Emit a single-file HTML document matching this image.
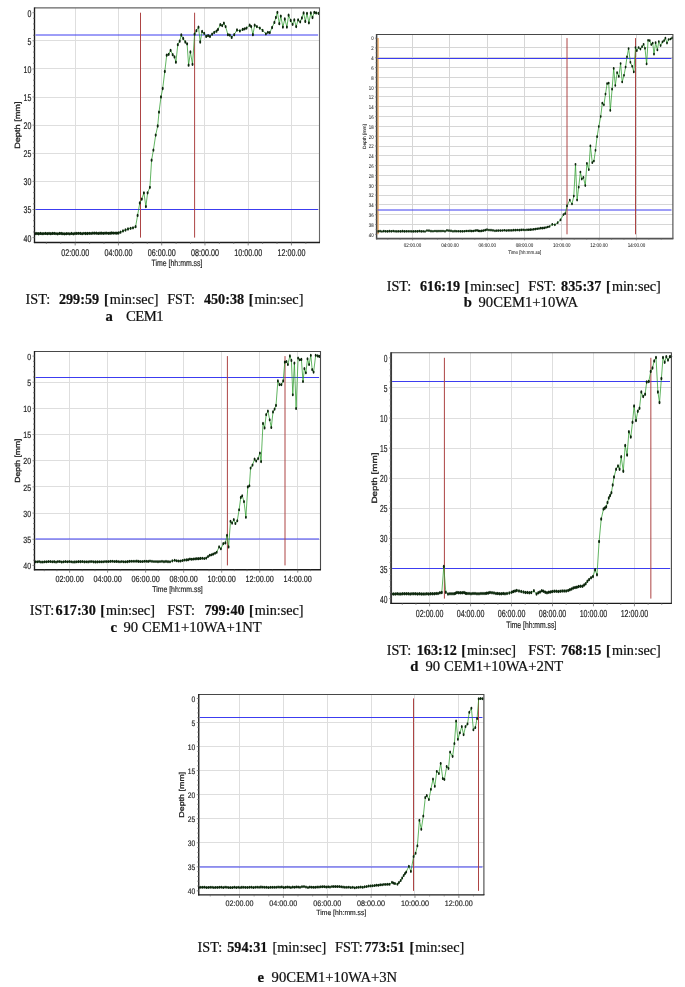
<!DOCTYPE html>
<html lang="en"><head><meta charset="utf-8"><title>Setting time curves</title>
<style>
html,body{margin:0;padding:0;background:#fff;}
body{width:685px;height:987px;overflow:hidden;position:relative;}
svg{position:absolute;left:0;top:0;display:block;}
text{white-space:pre;}
.ax text{text-rendering:geometricPrecision;}
</style></head><body>
<svg width="685" height="987" viewBox="0 0 685 987">
<rect width="685" height="987" fill="#fff"/>
<g id="chart-a" class="ax">
<path d="M75.5 7.9V242.45M118.5 7.9V242.45M161.5 7.9V242.45M204.5 7.9V242.45M248.5 7.9V242.45M291.5 7.9V242.45M34.5 40.5H319.5M34.5 68.5H319.5M34.5 97.5H319.5M34.5 125.5H319.5M34.5 153.5H319.5M34.5 181.5H319.5M34.5 209.5H319.5" stroke="#dedede" stroke-width="1" fill="none"/>
<path d="M35.5 35H318.1" stroke="#3c3cf0" stroke-width="1.0" fill="none"/>
<path d="M35.5 209.5H318.1" stroke="#3c3cf0" stroke-width="1" fill="none"/>
<path d="M140.5 12.7V237.6" stroke="#ad4444" stroke-width="1.0" fill="none"/>
<path d="M194.6 12.7V237.6" stroke="#ad4444" stroke-width="1.0" fill="none"/>
<polyline points="35.2,233.61 36.93,233.52 38.66,233.77 40.39,233.47 42.12,233.7 43.85,233.61 45.58,233.45 47.31,233.67 49.04,233.43 50.77,233.63 52.5,233.44 54.23,233.45 55.97,233.61 57.7,233.81 59.43,233.45 61.16,233.5 62.89,233.69 64.62,233.85 66.35,233.66 68.08,233.57 69.81,233.85 71.54,233.38 73.27,233.78 75,233.49 76.79,233.4 78.57,233.37 80.36,233.44 82.14,233.67 83.93,233.33 85.71,233.51 87.5,233.52 89.29,233.36 91.07,233.43 92.86,233.17 94.64,233.14 96.43,233.2 98.21,233.41 100,233.26 101.68,233.18 103.36,233.29 105.05,233.19 106.73,233.09 108.41,233.31 110.09,233.24 111.77,232.98 113.45,233.12 115.14,233.07 116.82,233.21 118.5,233 120.5,232.2 123,230.9 125.5,230 128,229 130.6,228.3 133,227.8 135.6,226.7 137.6,215.4 139.8,202.9 141.8,199.1 143.9,192.8 145.9,206.6 147.6,192.8 149.9,187.3 151.6,160.2 153.4,150.1 155.7,135.1 157.7,126 159,112.1 161,96.9 162.7,88.5 164.8,71.5 166.7,55.2 168.7,54.3 170.6,50.3 172.7,54.7 174.5,56.9 175.9,62.2 177.8,44.7 179.7,41.2 181.3,35 183.2,38.5 185.3,42 187.1,43.8 188.6,65.2 190.4,52 192.5,64.3 194.6,34.2 196.4,30.7 198.5,27.2 200.2,42 202.1,31.5 204.2,33.3 206.2,36.4 208.1,35.6 210,36.4 212.1,34.2 214.2,32.4 216.5,31.2 218,29.4 220.3,24.7 222.2,25.6 223.9,23.2 225.6,26.6 227.9,34.7 229.8,35.1 231.7,37.4 234.2,34.7 237,30 239.9,30.9 242.7,29.4 244.6,28.8 246.5,28.1 249.7,25.2 251.2,26.6 252.9,34.7 254.7,25.2 256.9,26.6 259.8,28.1 262.6,30.4 265.9,33.8 267.9,32.3 269.8,32.6 272.1,27.5 274.4,22.4 275.9,17.5 277.4,12.3 279.3,23.7 280.8,16.1 282.9,27.1 284.8,19 286.9,27.1 288.6,15.2 290.7,20.5 292.6,24.3 294.3,19.9 296.2,26.6 298.1,19.9 300.2,21.8 301.9,18 303.6,12.9 305.3,21.4 307,13.3 308.9,22.8 310.8,12.9 312.5,17.5 314.3,12.3 316.1,12.9 318.6,13.3" stroke="#2d9c2d" stroke-width="0.75" fill="none" stroke-linejoin="round"/>
<path d="M34.2 233.61a1 1.65 0 1 0 2 0a1 1.65 0 1 0 -2 0M35.93 233.52a1 1.65 0 1 0 2 0a1 1.65 0 1 0 -2 0M37.66 233.77a1 1.65 0 1 0 2 0a1 1.65 0 1 0 -2 0M39.39 233.47a1 1.65 0 1 0 2 0a1 1.65 0 1 0 -2 0M41.12 233.7a1 1.65 0 1 0 2 0a1 1.65 0 1 0 -2 0M42.85 233.61a1 1.65 0 1 0 2 0a1 1.65 0 1 0 -2 0M44.58 233.45a1 1.65 0 1 0 2 0a1 1.65 0 1 0 -2 0M46.31 233.67a1 1.65 0 1 0 2 0a1 1.65 0 1 0 -2 0M48.04 233.43a1 1.65 0 1 0 2 0a1 1.65 0 1 0 -2 0M49.77 233.63a1 1.65 0 1 0 2 0a1 1.65 0 1 0 -2 0M51.5 233.44a1 1.65 0 1 0 2 0a1 1.65 0 1 0 -2 0M53.23 233.45a1 1.65 0 1 0 2 0a1 1.65 0 1 0 -2 0M54.97 233.61a1 1.65 0 1 0 2 0a1 1.65 0 1 0 -2 0M56.7 233.81a1 1.65 0 1 0 2 0a1 1.65 0 1 0 -2 0M58.43 233.45a1 1.65 0 1 0 2 0a1 1.65 0 1 0 -2 0M60.16 233.5a1 1.65 0 1 0 2 0a1 1.65 0 1 0 -2 0M61.89 233.69a1 1.65 0 1 0 2 0a1 1.65 0 1 0 -2 0M63.62 233.85a1 1.65 0 1 0 2 0a1 1.65 0 1 0 -2 0M65.35 233.66a1 1.65 0 1 0 2 0a1 1.65 0 1 0 -2 0M67.08 233.57a1 1.65 0 1 0 2 0a1 1.65 0 1 0 -2 0M68.81 233.85a1 1.65 0 1 0 2 0a1 1.65 0 1 0 -2 0M70.54 233.38a1 1.65 0 1 0 2 0a1 1.65 0 1 0 -2 0M72.27 233.78a1 1.65 0 1 0 2 0a1 1.65 0 1 0 -2 0M74 233.49a1 1.65 0 1 0 2 0a1 1.65 0 1 0 -2 0M75.79 233.4a1 1.65 0 1 0 2 0a1 1.65 0 1 0 -2 0M77.57 233.37a1 1.65 0 1 0 2 0a1 1.65 0 1 0 -2 0M79.36 233.44a1 1.65 0 1 0 2 0a1 1.65 0 1 0 -2 0M81.14 233.67a1 1.65 0 1 0 2 0a1 1.65 0 1 0 -2 0M82.93 233.33a1 1.65 0 1 0 2 0a1 1.65 0 1 0 -2 0M84.71 233.51a1 1.65 0 1 0 2 0a1 1.65 0 1 0 -2 0M86.5 233.52a1 1.65 0 1 0 2 0a1 1.65 0 1 0 -2 0M88.29 233.36a1 1.65 0 1 0 2 0a1 1.65 0 1 0 -2 0M90.07 233.43a1 1.65 0 1 0 2 0a1 1.65 0 1 0 -2 0M91.86 233.17a1 1.65 0 1 0 2 0a1 1.65 0 1 0 -2 0M93.64 233.14a1 1.65 0 1 0 2 0a1 1.65 0 1 0 -2 0M95.43 233.2a1 1.65 0 1 0 2 0a1 1.65 0 1 0 -2 0M97.21 233.41a1 1.65 0 1 0 2 0a1 1.65 0 1 0 -2 0M99 233.26a1 1.65 0 1 0 2 0a1 1.65 0 1 0 -2 0M100.68 233.18a1 1.65 0 1 0 2 0a1 1.65 0 1 0 -2 0M102.36 233.29a1 1.65 0 1 0 2 0a1 1.65 0 1 0 -2 0M104.05 233.19a1 1.65 0 1 0 2 0a1 1.65 0 1 0 -2 0M105.73 233.09a1 1.65 0 1 0 2 0a1 1.65 0 1 0 -2 0M107.41 233.31a1 1.65 0 1 0 2 0a1 1.65 0 1 0 -2 0M109.09 233.24a1 1.65 0 1 0 2 0a1 1.65 0 1 0 -2 0M110.77 232.98a1 1.65 0 1 0 2 0a1 1.65 0 1 0 -2 0M112.45 233.12a1 1.65 0 1 0 2 0a1 1.65 0 1 0 -2 0M114.14 233.07a1 1.65 0 1 0 2 0a1 1.65 0 1 0 -2 0M115.82 233.21a1 1.65 0 1 0 2 0a1 1.65 0 1 0 -2 0M117.5 233a1 1.65 0 1 0 2 0a1 1.65 0 1 0 -2 0M119.5 232.2a1 1.65 0 1 0 2 0a1 1.65 0 1 0 -2 0M122 230.9a1 1.65 0 1 0 2 0a1 1.65 0 1 0 -2 0M124.5 230a1 1.65 0 1 0 2 0a1 1.65 0 1 0 -2 0M127 229a1 1.65 0 1 0 2 0a1 1.65 0 1 0 -2 0M129.6 228.3a1 1.65 0 1 0 2 0a1 1.65 0 1 0 -2 0M132 227.8a1 1.65 0 1 0 2 0a1 1.65 0 1 0 -2 0M134.6 226.7a1 1.65 0 1 0 2 0a1 1.65 0 1 0 -2 0M136.6 215.4a1 1.65 0 1 0 2 0a1 1.65 0 1 0 -2 0M138.8 202.9a1 1.65 0 1 0 2 0a1 1.65 0 1 0 -2 0M140.8 199.1a1 1.65 0 1 0 2 0a1 1.65 0 1 0 -2 0M142.9 192.8a1 1.65 0 1 0 2 0a1 1.65 0 1 0 -2 0M144.9 206.6a1 1.65 0 1 0 2 0a1 1.65 0 1 0 -2 0M146.6 192.8a1 1.65 0 1 0 2 0a1 1.65 0 1 0 -2 0M148.9 187.3a1 1.65 0 1 0 2 0a1 1.65 0 1 0 -2 0M150.6 160.2a1 1.65 0 1 0 2 0a1 1.65 0 1 0 -2 0M152.4 150.1a1 1.65 0 1 0 2 0a1 1.65 0 1 0 -2 0M154.7 135.1a1 1.65 0 1 0 2 0a1 1.65 0 1 0 -2 0M156.7 126a1 1.65 0 1 0 2 0a1 1.65 0 1 0 -2 0M158 112.1a1 1.65 0 1 0 2 0a1 1.65 0 1 0 -2 0M160 96.9a1 1.65 0 1 0 2 0a1 1.65 0 1 0 -2 0M161.7 88.5a1 1.65 0 1 0 2 0a1 1.65 0 1 0 -2 0M163.8 71.5a1 1.65 0 1 0 2 0a1 1.65 0 1 0 -2 0M165.7 55.2a1 1.65 0 1 0 2 0a1 1.65 0 1 0 -2 0M167.7 54.3a1 1.65 0 1 0 2 0a1 1.65 0 1 0 -2 0M169.6 50.3a1 1.65 0 1 0 2 0a1 1.65 0 1 0 -2 0M171.7 54.7a1 1.65 0 1 0 2 0a1 1.65 0 1 0 -2 0M173.5 56.9a1 1.65 0 1 0 2 0a1 1.65 0 1 0 -2 0M174.9 62.2a1 1.65 0 1 0 2 0a1 1.65 0 1 0 -2 0M176.8 44.7a1 1.65 0 1 0 2 0a1 1.65 0 1 0 -2 0M178.7 41.2a1 1.65 0 1 0 2 0a1 1.65 0 1 0 -2 0M180.3 35a1 1.65 0 1 0 2 0a1 1.65 0 1 0 -2 0M182.2 38.5a1 1.65 0 1 0 2 0a1 1.65 0 1 0 -2 0M184.3 42a1 1.65 0 1 0 2 0a1 1.65 0 1 0 -2 0M186.1 43.8a1 1.65 0 1 0 2 0a1 1.65 0 1 0 -2 0M187.6 65.2a1 1.65 0 1 0 2 0a1 1.65 0 1 0 -2 0M189.4 52a1 1.65 0 1 0 2 0a1 1.65 0 1 0 -2 0M191.5 64.3a1 1.65 0 1 0 2 0a1 1.65 0 1 0 -2 0M193.6 34.2a1 1.65 0 1 0 2 0a1 1.65 0 1 0 -2 0M195.4 30.7a1 1.65 0 1 0 2 0a1 1.65 0 1 0 -2 0M197.5 27.2a1 1.65 0 1 0 2 0a1 1.65 0 1 0 -2 0M199.2 42a1 1.65 0 1 0 2 0a1 1.65 0 1 0 -2 0M201.1 31.5a1 1.65 0 1 0 2 0a1 1.65 0 1 0 -2 0M203.2 33.3a1 1.65 0 1 0 2 0a1 1.65 0 1 0 -2 0M205.2 36.4a1 1.65 0 1 0 2 0a1 1.65 0 1 0 -2 0M207.1 35.6a1 1.65 0 1 0 2 0a1 1.65 0 1 0 -2 0M209 36.4a1 1.65 0 1 0 2 0a1 1.65 0 1 0 -2 0M211.1 34.2a1 1.65 0 1 0 2 0a1 1.65 0 1 0 -2 0M213.2 32.4a1 1.65 0 1 0 2 0a1 1.65 0 1 0 -2 0M215.5 31.2a1 1.65 0 1 0 2 0a1 1.65 0 1 0 -2 0M217 29.4a1 1.65 0 1 0 2 0a1 1.65 0 1 0 -2 0M219.3 24.7a1 1.65 0 1 0 2 0a1 1.65 0 1 0 -2 0M221.2 25.6a1 1.65 0 1 0 2 0a1 1.65 0 1 0 -2 0M222.9 23.2a1 1.65 0 1 0 2 0a1 1.65 0 1 0 -2 0M224.6 26.6a1 1.65 0 1 0 2 0a1 1.65 0 1 0 -2 0M226.9 34.7a1 1.65 0 1 0 2 0a1 1.65 0 1 0 -2 0M228.8 35.1a1 1.65 0 1 0 2 0a1 1.65 0 1 0 -2 0M230.7 37.4a1 1.65 0 1 0 2 0a1 1.65 0 1 0 -2 0M233.2 34.7a1 1.65 0 1 0 2 0a1 1.65 0 1 0 -2 0M236 30a1 1.65 0 1 0 2 0a1 1.65 0 1 0 -2 0M238.9 30.9a1 1.65 0 1 0 2 0a1 1.65 0 1 0 -2 0M241.7 29.4a1 1.65 0 1 0 2 0a1 1.65 0 1 0 -2 0M243.6 28.8a1 1.65 0 1 0 2 0a1 1.65 0 1 0 -2 0M245.5 28.1a1 1.65 0 1 0 2 0a1 1.65 0 1 0 -2 0M248.7 25.2a1 1.65 0 1 0 2 0a1 1.65 0 1 0 -2 0M250.2 26.6a1 1.65 0 1 0 2 0a1 1.65 0 1 0 -2 0M251.9 34.7a1 1.65 0 1 0 2 0a1 1.65 0 1 0 -2 0M253.7 25.2a1 1.65 0 1 0 2 0a1 1.65 0 1 0 -2 0M255.9 26.6a1 1.65 0 1 0 2 0a1 1.65 0 1 0 -2 0M258.8 28.1a1 1.65 0 1 0 2 0a1 1.65 0 1 0 -2 0M261.6 30.4a1 1.65 0 1 0 2 0a1 1.65 0 1 0 -2 0M264.9 33.8a1 1.65 0 1 0 2 0a1 1.65 0 1 0 -2 0M266.9 32.3a1 1.65 0 1 0 2 0a1 1.65 0 1 0 -2 0M268.8 32.6a1 1.65 0 1 0 2 0a1 1.65 0 1 0 -2 0M271.1 27.5a1 1.65 0 1 0 2 0a1 1.65 0 1 0 -2 0M273.4 22.4a1 1.65 0 1 0 2 0a1 1.65 0 1 0 -2 0M274.9 17.5a1 1.65 0 1 0 2 0a1 1.65 0 1 0 -2 0M276.4 12.3a1 1.65 0 1 0 2 0a1 1.65 0 1 0 -2 0M278.3 23.7a1 1.65 0 1 0 2 0a1 1.65 0 1 0 -2 0M279.8 16.1a1 1.65 0 1 0 2 0a1 1.65 0 1 0 -2 0M281.9 27.1a1 1.65 0 1 0 2 0a1 1.65 0 1 0 -2 0M283.8 19a1 1.65 0 1 0 2 0a1 1.65 0 1 0 -2 0M285.9 27.1a1 1.65 0 1 0 2 0a1 1.65 0 1 0 -2 0M287.6 15.2a1 1.65 0 1 0 2 0a1 1.65 0 1 0 -2 0M289.7 20.5a1 1.65 0 1 0 2 0a1 1.65 0 1 0 -2 0M291.6 24.3a1 1.65 0 1 0 2 0a1 1.65 0 1 0 -2 0M293.3 19.9a1 1.65 0 1 0 2 0a1 1.65 0 1 0 -2 0M295.2 26.6a1 1.65 0 1 0 2 0a1 1.65 0 1 0 -2 0M297.1 19.9a1 1.65 0 1 0 2 0a1 1.65 0 1 0 -2 0M299.2 21.8a1 1.65 0 1 0 2 0a1 1.65 0 1 0 -2 0M300.9 18a1 1.65 0 1 0 2 0a1 1.65 0 1 0 -2 0M302.6 12.9a1 1.65 0 1 0 2 0a1 1.65 0 1 0 -2 0M304.3 21.4a1 1.65 0 1 0 2 0a1 1.65 0 1 0 -2 0M306 13.3a1 1.65 0 1 0 2 0a1 1.65 0 1 0 -2 0M307.9 22.8a1 1.65 0 1 0 2 0a1 1.65 0 1 0 -2 0M309.8 12.9a1 1.65 0 1 0 2 0a1 1.65 0 1 0 -2 0M311.5 17.5a1 1.65 0 1 0 2 0a1 1.65 0 1 0 -2 0M313.3 12.3a1 1.65 0 1 0 2 0a1 1.65 0 1 0 -2 0M315.1 12.9a1 1.65 0 1 0 2 0a1 1.65 0 1 0 -2 0M317.6 13.3a1 1.65 0 1 0 2 0a1 1.65 0 1 0 -2 0" fill="#0c260c"/>
<path d="M34.5 7.9H319.5V242.45" stroke="#666" stroke-width="1.1" fill="none"/>
<path d="M34.5 7.4V243.05" stroke="#1c1c1c" stroke-width="1.35" fill="none"/>
<path d="M33.9 242.45H320" stroke="#1c1c1c" stroke-width="1.35" fill="none"/>
<path d="M32.5 12.7H34.5M32.5 40.81H34.5M32.5 68.93H34.5M32.5 97.04H34.5M32.5 125.15H34.5M32.5 153.26H34.5M32.5 181.38H34.5M32.5 209.49H34.5M32.5 237.6H34.5M33 18.32H34.5M33 23.95H34.5M33 29.57H34.5M33 35.19H34.5M33 46.44H34.5M33 52.06H34.5M33 57.68H34.5M33 63.3H34.5M33 74.55H34.5M33 80.17H34.5M33 85.79H34.5M33 91.42H34.5M33 102.66H34.5M33 108.28H34.5M33 113.91H34.5M33 119.53H34.5M33 130.77H34.5M33 136.4H34.5M33 142.02H34.5M33 147.64H34.5M33 158.88H34.5M33 164.51H34.5M33 170.13H34.5M33 175.75H34.5M33 187H34.5M33 192.62H34.5M33 198.24H34.5M33 203.87H34.5M33 215.11H34.5M33 220.73H34.5M33 226.36H34.5M33 231.98H34.5M75.2 242.45V245.45M118.45 242.45V245.45M161.7 242.45V245.45M204.95 242.45V245.45M248.2 242.45V245.45M291.45 242.45V245.45M46.37 242.45V243.95M60.78 242.45V243.95M89.62 242.45V243.95M104.03 242.45V243.95M132.87 242.45V243.95M147.28 242.45V243.95M176.12 242.45V243.95M190.53 242.45V243.95M219.37 242.45V243.95M233.78 242.45V243.95M262.62 242.45V243.95M277.03 242.45V243.95M305.87 242.45V243.95" stroke="#6e6e6e" stroke-width="0.8" fill="none"/>
<text x="61.25" y="256" font-family="Liberation Sans, Arial, sans-serif" font-size="9.8" fill="#222" stroke="#222" stroke-width="0.19" textLength="27.9" lengthAdjust="spacingAndGlyphs">02:00.00</text>
<text x="104.5" y="256" font-family="Liberation Sans, Arial, sans-serif" font-size="9.8" fill="#222" stroke="#222" stroke-width="0.19" textLength="27.9" lengthAdjust="spacingAndGlyphs">04:00.00</text>
<text x="147.75" y="256" font-family="Liberation Sans, Arial, sans-serif" font-size="9.8" fill="#222" stroke="#222" stroke-width="0.19" textLength="27.9" lengthAdjust="spacingAndGlyphs">06:00.00</text>
<text x="191" y="256" font-family="Liberation Sans, Arial, sans-serif" font-size="9.8" fill="#222" stroke="#222" stroke-width="0.19" textLength="27.9" lengthAdjust="spacingAndGlyphs">08:00.00</text>
<text x="234.25" y="256" font-family="Liberation Sans, Arial, sans-serif" font-size="9.8" fill="#222" stroke="#222" stroke-width="0.19" textLength="27.9" lengthAdjust="spacingAndGlyphs">10:00.00</text>
<text x="277.5" y="256" font-family="Liberation Sans, Arial, sans-serif" font-size="9.8" fill="#222" stroke="#222" stroke-width="0.19" textLength="27.9" lengthAdjust="spacingAndGlyphs">12:00.00</text>
<text x="27.5" y="16.61" font-family="Liberation Sans, Arial, sans-serif" font-size="9.8" fill="#222" stroke="#222" stroke-width="0.19" textLength="3.9" lengthAdjust="spacingAndGlyphs">0</text>
<text x="27.5" y="44.72" font-family="Liberation Sans, Arial, sans-serif" font-size="9.8" fill="#222" stroke="#222" stroke-width="0.19" textLength="3.9" lengthAdjust="spacingAndGlyphs">5</text>
<text x="23.6" y="72.83" font-family="Liberation Sans, Arial, sans-serif" font-size="9.8" fill="#222" stroke="#222" stroke-width="0.19" textLength="7.8" lengthAdjust="spacingAndGlyphs">10</text>
<text x="23.6" y="100.95" font-family="Liberation Sans, Arial, sans-serif" font-size="9.8" fill="#222" stroke="#222" stroke-width="0.19" textLength="7.8" lengthAdjust="spacingAndGlyphs">15</text>
<text x="23.6" y="129.06" font-family="Liberation Sans, Arial, sans-serif" font-size="9.8" fill="#222" stroke="#222" stroke-width="0.19" textLength="7.8" lengthAdjust="spacingAndGlyphs">20</text>
<text x="23.6" y="157.17" font-family="Liberation Sans, Arial, sans-serif" font-size="9.8" fill="#222" stroke="#222" stroke-width="0.19" textLength="7.8" lengthAdjust="spacingAndGlyphs">25</text>
<text x="23.6" y="185.28" font-family="Liberation Sans, Arial, sans-serif" font-size="9.8" fill="#222" stroke="#222" stroke-width="0.19" textLength="7.8" lengthAdjust="spacingAndGlyphs">30</text>
<text x="23.6" y="213.4" font-family="Liberation Sans, Arial, sans-serif" font-size="9.8" fill="#222" stroke="#222" stroke-width="0.19" textLength="7.8" lengthAdjust="spacingAndGlyphs">35</text>
<text x="23.6" y="241.51" font-family="Liberation Sans, Arial, sans-serif" font-size="9.8" fill="#222" stroke="#222" stroke-width="0.19" textLength="7.8" lengthAdjust="spacingAndGlyphs">40</text>
<text x="151.6" y="266.2" font-family="Liberation Sans, Arial, sans-serif" font-size="9" fill="#222" stroke="#222" stroke-width="0.19" textLength="50.8" lengthAdjust="spacingAndGlyphs">Time [hh:mm.ss]</text>
<text transform="translate(20 125.17) rotate(-90)" x="-23.7" y="0" font-family="Liberation Sans, Arial, sans-serif" font-size="7.6" fill="#222" stroke="#222" stroke-width="0.3" textLength="47.4" lengthAdjust="spacingAndGlyphs">Depth [mm]</text>
</g>
<g id="chart-b" class="ax">
<path d="M412.5 34.5V238.7M449.5 34.5V238.7M487.5 34.5V238.7M524.5 34.5V238.7M561.5 34.5V238.7M599.5 34.5V238.7M636.5 34.5V238.7M376.6 47.5H672.9M376.6 57.5H672.9M376.6 67.5H672.9M376.6 77.5H672.9M376.6 87.5H672.9M376.6 96.5H672.9M376.6 106.5H672.9M376.6 116.5H672.9M376.6 126.5H672.9M376.6 136.5H672.9M376.6 146.5H672.9M376.6 155.5H672.9M376.6 165.5H672.9M376.6 175.5H672.9M376.6 185.5H672.9M376.6 195.5H672.9M376.6 204.5H672.9M376.6 214.5H672.9M376.6 224.5H672.9" stroke="#d6d6d6" stroke-width="1" fill="none"/>
<path d="M378 38.1V234.3" stroke="#f2b06a" stroke-width="1.6" fill="none"/>
<path d="M377.6 58.5H671.5" stroke="#3c3cf0" stroke-width="1.0" fill="none"/>
<path d="M377.6 210H671.5" stroke="#3c3cf0" stroke-width="1" fill="none"/>
<path d="M567 38.1V234.3" stroke="#ad4444" stroke-width="1.0" fill="none"/>
<path d="M635.5 38.1V234.3" stroke="#ad4444" stroke-width="1.0" fill="none"/>
<polyline points="378.2,231.39 380.07,231.22 381.94,231.49 383.82,231.15 385.69,231.27 387.56,231.4 389.43,231.16 391.3,231.3 393.18,231.12 395.05,231.37 396.92,231.41 398.79,231.33 400.66,231.45 402.54,231.23 404.41,231.38 406.28,231.34 408.15,231.33 410.02,231.28 411.9,231.44 413.77,231.48 415.64,231.29 417.51,231.37 419.38,231.12 421.26,231.38 423.13,231.36 425,231.5 427,230.53 429,230.71 431,231.15 433,231.27 435,231.01 437,231.18 439,231.07 441,231.05 443,231.02 445,231.31 447,230.45 449,230.67 451,230.91 453,231.27 455,231.13 456.88,231.24 458.75,231.24 460.62,231.34 462.5,231.28 464.38,231.26 466.25,230.99 468.12,231 470,230.94 471.75,231.05 473.5,230.98 475.25,230.56 477,230.47 478.5,230.79 480,231.09 481.75,230.87 483.5,230.59 485.25,230.13 487,229.7 489,230.04 491,230.2 493,230.45 495,230.78 496.88,230.64 498.75,230.53 500.62,230.53 502.5,230.52 504.38,230.23 506.25,230.53 508.12,230.45 510,230.45 511.88,230.38 513.75,230.18 515.62,230.15 517.5,229.99 519.38,230.17 521.25,229.9 523.12,229.86 525,230 527,229.81 528.67,229.73 530.33,229.72 532,229.57 533.75,229.28 535.5,229.05 537.25,228.76 539,228.56 540.75,228.21 542.5,228.21 544.25,227.88 546,227.49 547.75,226.98 549.5,226.5 552.3,224.4 554.9,224.8 557.7,222.7 560.5,219.9 563.5,214.6 565.2,213.6 567,205.9 569.8,200.1 572,204 573.8,196.1 575.5,164.3 577.1,200.1 578.7,187.2 580.4,172 581.8,179.1 583.4,177.4 585.3,185.6 586.9,163.4 588.8,169.7 590.4,145.9 592.3,162.7 593.9,161.1 595.5,150.3 597.1,136.7 598.8,126.5 600.7,116.5 602.3,103.2 603.9,104.8 605.5,94.1 607.1,83.6 608.7,83.1 610.3,110.4 612.1,89.2 613.7,68.4 615.3,85.5 617.1,72.7 618.8,76.4 620.6,63.5 622.2,82 624,75.3 625.6,67.1 627,56.8 628.6,48.6 630.4,62.3 632.2,66.3 633.8,71.9 635.5,47.5 636.8,50.7 638.6,47.5 640.4,49.1 642.1,46.7 643.6,44.3 645,48.3 646.6,63.9 648.1,40.3 649.7,40.6 651.3,44.6 652.7,43.1 654,54.2 655.6,42.7 657.4,49.9 658.8,41.5 660.6,45.6 662.5,41.9 664.1,40.6 665.4,38.2 667,43.1 668.6,39.5 670.6,39 672.2,37.8" stroke="#2d9c2d" stroke-width="0.75" fill="none" stroke-linejoin="round"/>
<path d="M377.3 231.39a0.9 1.35 0 1 0 1.8 0a0.9 1.35 0 1 0 -1.8 0M379.17 231.22a0.9 1.35 0 1 0 1.8 0a0.9 1.35 0 1 0 -1.8 0M381.04 231.49a0.9 1.35 0 1 0 1.8 0a0.9 1.35 0 1 0 -1.8 0M382.92 231.15a0.9 1.35 0 1 0 1.8 0a0.9 1.35 0 1 0 -1.8 0M384.79 231.27a0.9 1.35 0 1 0 1.8 0a0.9 1.35 0 1 0 -1.8 0M386.66 231.4a0.9 1.35 0 1 0 1.8 0a0.9 1.35 0 1 0 -1.8 0M388.53 231.16a0.9 1.35 0 1 0 1.8 0a0.9 1.35 0 1 0 -1.8 0M390.4 231.3a0.9 1.35 0 1 0 1.8 0a0.9 1.35 0 1 0 -1.8 0M392.28 231.12a0.9 1.35 0 1 0 1.8 0a0.9 1.35 0 1 0 -1.8 0M394.15 231.37a0.9 1.35 0 1 0 1.8 0a0.9 1.35 0 1 0 -1.8 0M396.02 231.41a0.9 1.35 0 1 0 1.8 0a0.9 1.35 0 1 0 -1.8 0M397.89 231.33a0.9 1.35 0 1 0 1.8 0a0.9 1.35 0 1 0 -1.8 0M399.76 231.45a0.9 1.35 0 1 0 1.8 0a0.9 1.35 0 1 0 -1.8 0M401.64 231.23a0.9 1.35 0 1 0 1.8 0a0.9 1.35 0 1 0 -1.8 0M403.51 231.38a0.9 1.35 0 1 0 1.8 0a0.9 1.35 0 1 0 -1.8 0M405.38 231.34a0.9 1.35 0 1 0 1.8 0a0.9 1.35 0 1 0 -1.8 0M407.25 231.33a0.9 1.35 0 1 0 1.8 0a0.9 1.35 0 1 0 -1.8 0M409.12 231.28a0.9 1.35 0 1 0 1.8 0a0.9 1.35 0 1 0 -1.8 0M411 231.44a0.9 1.35 0 1 0 1.8 0a0.9 1.35 0 1 0 -1.8 0M412.87 231.48a0.9 1.35 0 1 0 1.8 0a0.9 1.35 0 1 0 -1.8 0M414.74 231.29a0.9 1.35 0 1 0 1.8 0a0.9 1.35 0 1 0 -1.8 0M416.61 231.37a0.9 1.35 0 1 0 1.8 0a0.9 1.35 0 1 0 -1.8 0M418.48 231.12a0.9 1.35 0 1 0 1.8 0a0.9 1.35 0 1 0 -1.8 0M420.36 231.38a0.9 1.35 0 1 0 1.8 0a0.9 1.35 0 1 0 -1.8 0M422.23 231.36a0.9 1.35 0 1 0 1.8 0a0.9 1.35 0 1 0 -1.8 0M424.1 231.5a0.9 1.35 0 1 0 1.8 0a0.9 1.35 0 1 0 -1.8 0M426.1 230.53a0.9 1.35 0 1 0 1.8 0a0.9 1.35 0 1 0 -1.8 0M428.1 230.71a0.9 1.35 0 1 0 1.8 0a0.9 1.35 0 1 0 -1.8 0M430.1 231.15a0.9 1.35 0 1 0 1.8 0a0.9 1.35 0 1 0 -1.8 0M432.1 231.27a0.9 1.35 0 1 0 1.8 0a0.9 1.35 0 1 0 -1.8 0M434.1 231.01a0.9 1.35 0 1 0 1.8 0a0.9 1.35 0 1 0 -1.8 0M436.1 231.18a0.9 1.35 0 1 0 1.8 0a0.9 1.35 0 1 0 -1.8 0M438.1 231.07a0.9 1.35 0 1 0 1.8 0a0.9 1.35 0 1 0 -1.8 0M440.1 231.05a0.9 1.35 0 1 0 1.8 0a0.9 1.35 0 1 0 -1.8 0M442.1 231.02a0.9 1.35 0 1 0 1.8 0a0.9 1.35 0 1 0 -1.8 0M444.1 231.31a0.9 1.35 0 1 0 1.8 0a0.9 1.35 0 1 0 -1.8 0M446.1 230.45a0.9 1.35 0 1 0 1.8 0a0.9 1.35 0 1 0 -1.8 0M448.1 230.67a0.9 1.35 0 1 0 1.8 0a0.9 1.35 0 1 0 -1.8 0M450.1 230.91a0.9 1.35 0 1 0 1.8 0a0.9 1.35 0 1 0 -1.8 0M452.1 231.27a0.9 1.35 0 1 0 1.8 0a0.9 1.35 0 1 0 -1.8 0M454.1 231.13a0.9 1.35 0 1 0 1.8 0a0.9 1.35 0 1 0 -1.8 0M455.98 231.24a0.9 1.35 0 1 0 1.8 0a0.9 1.35 0 1 0 -1.8 0M457.85 231.24a0.9 1.35 0 1 0 1.8 0a0.9 1.35 0 1 0 -1.8 0M459.73 231.34a0.9 1.35 0 1 0 1.8 0a0.9 1.35 0 1 0 -1.8 0M461.6 231.28a0.9 1.35 0 1 0 1.8 0a0.9 1.35 0 1 0 -1.8 0M463.48 231.26a0.9 1.35 0 1 0 1.8 0a0.9 1.35 0 1 0 -1.8 0M465.35 230.99a0.9 1.35 0 1 0 1.8 0a0.9 1.35 0 1 0 -1.8 0M467.23 231a0.9 1.35 0 1 0 1.8 0a0.9 1.35 0 1 0 -1.8 0M469.1 230.94a0.9 1.35 0 1 0 1.8 0a0.9 1.35 0 1 0 -1.8 0M470.85 231.05a0.9 1.35 0 1 0 1.8 0a0.9 1.35 0 1 0 -1.8 0M472.6 230.98a0.9 1.35 0 1 0 1.8 0a0.9 1.35 0 1 0 -1.8 0M474.35 230.56a0.9 1.35 0 1 0 1.8 0a0.9 1.35 0 1 0 -1.8 0M476.1 230.47a0.9 1.35 0 1 0 1.8 0a0.9 1.35 0 1 0 -1.8 0M477.6 230.79a0.9 1.35 0 1 0 1.8 0a0.9 1.35 0 1 0 -1.8 0M479.1 231.09a0.9 1.35 0 1 0 1.8 0a0.9 1.35 0 1 0 -1.8 0M480.85 230.87a0.9 1.35 0 1 0 1.8 0a0.9 1.35 0 1 0 -1.8 0M482.6 230.59a0.9 1.35 0 1 0 1.8 0a0.9 1.35 0 1 0 -1.8 0M484.35 230.13a0.9 1.35 0 1 0 1.8 0a0.9 1.35 0 1 0 -1.8 0M486.1 229.7a0.9 1.35 0 1 0 1.8 0a0.9 1.35 0 1 0 -1.8 0M488.1 230.04a0.9 1.35 0 1 0 1.8 0a0.9 1.35 0 1 0 -1.8 0M490.1 230.2a0.9 1.35 0 1 0 1.8 0a0.9 1.35 0 1 0 -1.8 0M492.1 230.45a0.9 1.35 0 1 0 1.8 0a0.9 1.35 0 1 0 -1.8 0M494.1 230.78a0.9 1.35 0 1 0 1.8 0a0.9 1.35 0 1 0 -1.8 0M495.98 230.64a0.9 1.35 0 1 0 1.8 0a0.9 1.35 0 1 0 -1.8 0M497.85 230.53a0.9 1.35 0 1 0 1.8 0a0.9 1.35 0 1 0 -1.8 0M499.73 230.53a0.9 1.35 0 1 0 1.8 0a0.9 1.35 0 1 0 -1.8 0M501.6 230.52a0.9 1.35 0 1 0 1.8 0a0.9 1.35 0 1 0 -1.8 0M503.48 230.23a0.9 1.35 0 1 0 1.8 0a0.9 1.35 0 1 0 -1.8 0M505.35 230.53a0.9 1.35 0 1 0 1.8 0a0.9 1.35 0 1 0 -1.8 0M507.23 230.45a0.9 1.35 0 1 0 1.8 0a0.9 1.35 0 1 0 -1.8 0M509.1 230.45a0.9 1.35 0 1 0 1.8 0a0.9 1.35 0 1 0 -1.8 0M510.98 230.38a0.9 1.35 0 1 0 1.8 0a0.9 1.35 0 1 0 -1.8 0M512.85 230.18a0.9 1.35 0 1 0 1.8 0a0.9 1.35 0 1 0 -1.8 0M514.73 230.15a0.9 1.35 0 1 0 1.8 0a0.9 1.35 0 1 0 -1.8 0M516.6 229.99a0.9 1.35 0 1 0 1.8 0a0.9 1.35 0 1 0 -1.8 0M518.48 230.17a0.9 1.35 0 1 0 1.8 0a0.9 1.35 0 1 0 -1.8 0M520.35 229.9a0.9 1.35 0 1 0 1.8 0a0.9 1.35 0 1 0 -1.8 0M522.23 229.86a0.9 1.35 0 1 0 1.8 0a0.9 1.35 0 1 0 -1.8 0M524.1 230a0.9 1.35 0 1 0 1.8 0a0.9 1.35 0 1 0 -1.8 0M526.1 229.81a0.9 1.35 0 1 0 1.8 0a0.9 1.35 0 1 0 -1.8 0M527.77 229.73a0.9 1.35 0 1 0 1.8 0a0.9 1.35 0 1 0 -1.8 0M529.43 229.72a0.9 1.35 0 1 0 1.8 0a0.9 1.35 0 1 0 -1.8 0M531.1 229.57a0.9 1.35 0 1 0 1.8 0a0.9 1.35 0 1 0 -1.8 0M532.85 229.28a0.9 1.35 0 1 0 1.8 0a0.9 1.35 0 1 0 -1.8 0M534.6 229.05a0.9 1.35 0 1 0 1.8 0a0.9 1.35 0 1 0 -1.8 0M536.35 228.76a0.9 1.35 0 1 0 1.8 0a0.9 1.35 0 1 0 -1.8 0M538.1 228.56a0.9 1.35 0 1 0 1.8 0a0.9 1.35 0 1 0 -1.8 0M539.85 228.21a0.9 1.35 0 1 0 1.8 0a0.9 1.35 0 1 0 -1.8 0M541.6 228.21a0.9 1.35 0 1 0 1.8 0a0.9 1.35 0 1 0 -1.8 0M543.35 227.88a0.9 1.35 0 1 0 1.8 0a0.9 1.35 0 1 0 -1.8 0M545.1 227.49a0.9 1.35 0 1 0 1.8 0a0.9 1.35 0 1 0 -1.8 0M546.85 226.98a0.9 1.35 0 1 0 1.8 0a0.9 1.35 0 1 0 -1.8 0M548.6 226.5a0.9 1.35 0 1 0 1.8 0a0.9 1.35 0 1 0 -1.8 0M551.4 224.4a0.9 1.35 0 1 0 1.8 0a0.9 1.35 0 1 0 -1.8 0M554 224.8a0.9 1.35 0 1 0 1.8 0a0.9 1.35 0 1 0 -1.8 0M556.8 222.7a0.9 1.35 0 1 0 1.8 0a0.9 1.35 0 1 0 -1.8 0M559.6 219.9a0.9 1.35 0 1 0 1.8 0a0.9 1.35 0 1 0 -1.8 0M562.6 214.6a0.9 1.35 0 1 0 1.8 0a0.9 1.35 0 1 0 -1.8 0M564.3 213.6a0.9 1.35 0 1 0 1.8 0a0.9 1.35 0 1 0 -1.8 0M566.1 205.9a0.9 1.35 0 1 0 1.8 0a0.9 1.35 0 1 0 -1.8 0M568.9 200.1a0.9 1.35 0 1 0 1.8 0a0.9 1.35 0 1 0 -1.8 0M571.1 204a0.9 1.35 0 1 0 1.8 0a0.9 1.35 0 1 0 -1.8 0M572.9 196.1a0.9 1.35 0 1 0 1.8 0a0.9 1.35 0 1 0 -1.8 0M574.6 164.3a0.9 1.35 0 1 0 1.8 0a0.9 1.35 0 1 0 -1.8 0M576.2 200.1a0.9 1.35 0 1 0 1.8 0a0.9 1.35 0 1 0 -1.8 0M577.8 187.2a0.9 1.35 0 1 0 1.8 0a0.9 1.35 0 1 0 -1.8 0M579.5 172a0.9 1.35 0 1 0 1.8 0a0.9 1.35 0 1 0 -1.8 0M580.9 179.1a0.9 1.35 0 1 0 1.8 0a0.9 1.35 0 1 0 -1.8 0M582.5 177.4a0.9 1.35 0 1 0 1.8 0a0.9 1.35 0 1 0 -1.8 0M584.4 185.6a0.9 1.35 0 1 0 1.8 0a0.9 1.35 0 1 0 -1.8 0M586 163.4a0.9 1.35 0 1 0 1.8 0a0.9 1.35 0 1 0 -1.8 0M587.9 169.7a0.9 1.35 0 1 0 1.8 0a0.9 1.35 0 1 0 -1.8 0M589.5 145.9a0.9 1.35 0 1 0 1.8 0a0.9 1.35 0 1 0 -1.8 0M591.4 162.7a0.9 1.35 0 1 0 1.8 0a0.9 1.35 0 1 0 -1.8 0M593 161.1a0.9 1.35 0 1 0 1.8 0a0.9 1.35 0 1 0 -1.8 0M594.6 150.3a0.9 1.35 0 1 0 1.8 0a0.9 1.35 0 1 0 -1.8 0M596.2 136.7a0.9 1.35 0 1 0 1.8 0a0.9 1.35 0 1 0 -1.8 0M597.9 126.5a0.9 1.35 0 1 0 1.8 0a0.9 1.35 0 1 0 -1.8 0M599.8 116.5a0.9 1.35 0 1 0 1.8 0a0.9 1.35 0 1 0 -1.8 0M601.4 103.2a0.9 1.35 0 1 0 1.8 0a0.9 1.35 0 1 0 -1.8 0M603 104.8a0.9 1.35 0 1 0 1.8 0a0.9 1.35 0 1 0 -1.8 0M604.6 94.1a0.9 1.35 0 1 0 1.8 0a0.9 1.35 0 1 0 -1.8 0M606.2 83.6a0.9 1.35 0 1 0 1.8 0a0.9 1.35 0 1 0 -1.8 0M607.8 83.1a0.9 1.35 0 1 0 1.8 0a0.9 1.35 0 1 0 -1.8 0M609.4 110.4a0.9 1.35 0 1 0 1.8 0a0.9 1.35 0 1 0 -1.8 0M611.2 89.2a0.9 1.35 0 1 0 1.8 0a0.9 1.35 0 1 0 -1.8 0M612.8 68.4a0.9 1.35 0 1 0 1.8 0a0.9 1.35 0 1 0 -1.8 0M614.4 85.5a0.9 1.35 0 1 0 1.8 0a0.9 1.35 0 1 0 -1.8 0M616.2 72.7a0.9 1.35 0 1 0 1.8 0a0.9 1.35 0 1 0 -1.8 0M617.9 76.4a0.9 1.35 0 1 0 1.8 0a0.9 1.35 0 1 0 -1.8 0M619.7 63.5a0.9 1.35 0 1 0 1.8 0a0.9 1.35 0 1 0 -1.8 0M621.3 82a0.9 1.35 0 1 0 1.8 0a0.9 1.35 0 1 0 -1.8 0M623.1 75.3a0.9 1.35 0 1 0 1.8 0a0.9 1.35 0 1 0 -1.8 0M624.7 67.1a0.9 1.35 0 1 0 1.8 0a0.9 1.35 0 1 0 -1.8 0M626.1 56.8a0.9 1.35 0 1 0 1.8 0a0.9 1.35 0 1 0 -1.8 0M627.7 48.6a0.9 1.35 0 1 0 1.8 0a0.9 1.35 0 1 0 -1.8 0M629.5 62.3a0.9 1.35 0 1 0 1.8 0a0.9 1.35 0 1 0 -1.8 0M631.3 66.3a0.9 1.35 0 1 0 1.8 0a0.9 1.35 0 1 0 -1.8 0M632.9 71.9a0.9 1.35 0 1 0 1.8 0a0.9 1.35 0 1 0 -1.8 0M634.6 47.5a0.9 1.35 0 1 0 1.8 0a0.9 1.35 0 1 0 -1.8 0M635.9 50.7a0.9 1.35 0 1 0 1.8 0a0.9 1.35 0 1 0 -1.8 0M637.7 47.5a0.9 1.35 0 1 0 1.8 0a0.9 1.35 0 1 0 -1.8 0M639.5 49.1a0.9 1.35 0 1 0 1.8 0a0.9 1.35 0 1 0 -1.8 0M641.2 46.7a0.9 1.35 0 1 0 1.8 0a0.9 1.35 0 1 0 -1.8 0M642.7 44.3a0.9 1.35 0 1 0 1.8 0a0.9 1.35 0 1 0 -1.8 0M644.1 48.3a0.9 1.35 0 1 0 1.8 0a0.9 1.35 0 1 0 -1.8 0M645.7 63.9a0.9 1.35 0 1 0 1.8 0a0.9 1.35 0 1 0 -1.8 0M647.2 40.3a0.9 1.35 0 1 0 1.8 0a0.9 1.35 0 1 0 -1.8 0M648.8 40.6a0.9 1.35 0 1 0 1.8 0a0.9 1.35 0 1 0 -1.8 0M650.4 44.6a0.9 1.35 0 1 0 1.8 0a0.9 1.35 0 1 0 -1.8 0M651.8 43.1a0.9 1.35 0 1 0 1.8 0a0.9 1.35 0 1 0 -1.8 0M653.1 54.2a0.9 1.35 0 1 0 1.8 0a0.9 1.35 0 1 0 -1.8 0M654.7 42.7a0.9 1.35 0 1 0 1.8 0a0.9 1.35 0 1 0 -1.8 0M656.5 49.9a0.9 1.35 0 1 0 1.8 0a0.9 1.35 0 1 0 -1.8 0M657.9 41.5a0.9 1.35 0 1 0 1.8 0a0.9 1.35 0 1 0 -1.8 0M659.7 45.6a0.9 1.35 0 1 0 1.8 0a0.9 1.35 0 1 0 -1.8 0M661.6 41.9a0.9 1.35 0 1 0 1.8 0a0.9 1.35 0 1 0 -1.8 0M663.2 40.6a0.9 1.35 0 1 0 1.8 0a0.9 1.35 0 1 0 -1.8 0M664.5 38.2a0.9 1.35 0 1 0 1.8 0a0.9 1.35 0 1 0 -1.8 0M666.1 43.1a0.9 1.35 0 1 0 1.8 0a0.9 1.35 0 1 0 -1.8 0M667.7 39.5a0.9 1.35 0 1 0 1.8 0a0.9 1.35 0 1 0 -1.8 0M669.7 39a0.9 1.35 0 1 0 1.8 0a0.9 1.35 0 1 0 -1.8 0M671.3 37.8a0.9 1.35 0 1 0 1.8 0a0.9 1.35 0 1 0 -1.8 0" fill="#0c260c"/>
<path d="M376.6 34.5H672.9V238.7" stroke="#484848" stroke-width="1.1" fill="none"/>
<path d="M376.6 34V239.3" stroke="#444" stroke-width="1.5" fill="none"/>
<path d="M376 238.7H673.4" stroke="#555" stroke-width="1.7" fill="none"/>
<path d="M375.2 38.1H376.6M375.2 47.91H376.6M375.2 57.72H376.6M375.2 67.53H376.6M375.2 77.34H376.6M375.2 87.15H376.6M375.2 96.96H376.6M375.2 106.77H376.6M375.2 116.58H376.6M375.2 126.39H376.6M375.2 136.2H376.6M375.2 146.01H376.6M375.2 155.82H376.6M375.2 165.63H376.6M375.2 175.44H376.6M375.2 185.25H376.6M375.2 195.06H376.6M375.2 204.87H376.6M375.2 214.68H376.6M375.2 224.49H376.6M375.2 234.3H376.6M375.7 43.01H376.6M375.7 52.81H376.6M375.7 62.62H376.6M375.7 72.44H376.6M375.7 82.25H376.6M375.7 92.06H376.6M375.7 101.87H376.6M375.7 111.68H376.6M375.7 121.49H376.6M375.7 131.3H376.6M375.7 141.11H376.6M375.7 150.92H376.6M375.7 160.72H376.6M375.7 170.53H376.6M375.7 180.34H376.6M375.7 190.16H376.6M375.7 199.97H376.6M375.7 209.78H376.6M375.7 219.59H376.6M375.7 229.4H376.6M412.6 238.7V240.3M449.9 238.7V240.3M487.2 238.7V240.3M524.5 238.7V240.3M561.8 238.7V240.3M599.1 238.7V240.3M636.4 238.7V240.3M387.73 238.7V239.6M400.17 238.7V239.6M425.03 238.7V239.6M437.47 238.7V239.6M462.33 238.7V239.6M474.77 238.7V239.6M499.63 238.7V239.6M512.07 238.7V239.6M536.93 238.7V239.6M549.37 238.7V239.6M574.23 238.7V239.6M586.67 238.7V239.6M611.53 238.7V239.6M623.97 238.7V239.6M648.83 238.7V239.6M661.27 238.7V239.6" stroke="#6e6e6e" stroke-width="0.8" fill="none"/>
<text x="403.85" y="246.9" font-family="Liberation Sans, Arial, sans-serif" font-size="5.5" fill="#222" stroke="#222" stroke-width="0.04" textLength="17.5" lengthAdjust="spacingAndGlyphs">02:00.00</text>
<text x="441.15" y="246.9" font-family="Liberation Sans, Arial, sans-serif" font-size="5.5" fill="#222" stroke="#222" stroke-width="0.04" textLength="17.5" lengthAdjust="spacingAndGlyphs">04:00.00</text>
<text x="478.45" y="246.9" font-family="Liberation Sans, Arial, sans-serif" font-size="5.5" fill="#222" stroke="#222" stroke-width="0.04" textLength="17.5" lengthAdjust="spacingAndGlyphs">06:00.00</text>
<text x="515.75" y="246.9" font-family="Liberation Sans, Arial, sans-serif" font-size="5.5" fill="#222" stroke="#222" stroke-width="0.04" textLength="17.5" lengthAdjust="spacingAndGlyphs">08:00.00</text>
<text x="553.05" y="246.9" font-family="Liberation Sans, Arial, sans-serif" font-size="5.5" fill="#222" stroke="#222" stroke-width="0.04" textLength="17.5" lengthAdjust="spacingAndGlyphs">10:00.00</text>
<text x="590.35" y="246.9" font-family="Liberation Sans, Arial, sans-serif" font-size="5.5" fill="#222" stroke="#222" stroke-width="0.04" textLength="17.5" lengthAdjust="spacingAndGlyphs">12:00.00</text>
<text x="627.65" y="246.9" font-family="Liberation Sans, Arial, sans-serif" font-size="5.5" fill="#222" stroke="#222" stroke-width="0.04" textLength="17.5" lengthAdjust="spacingAndGlyphs">14:00.00</text>
<text x="371.2" y="40.47" font-family="Liberation Sans, Arial, sans-serif" font-size="5.5" fill="#222" stroke="#222" stroke-width="0.04" textLength="2.4" lengthAdjust="spacingAndGlyphs">0</text>
<text x="371.2" y="50.28" font-family="Liberation Sans, Arial, sans-serif" font-size="5.5" fill="#222" stroke="#222" stroke-width="0.04" textLength="2.4" lengthAdjust="spacingAndGlyphs">2</text>
<text x="371.2" y="60.09" font-family="Liberation Sans, Arial, sans-serif" font-size="5.5" fill="#222" stroke="#222" stroke-width="0.04" textLength="2.4" lengthAdjust="spacingAndGlyphs">4</text>
<text x="371.2" y="69.9" font-family="Liberation Sans, Arial, sans-serif" font-size="5.5" fill="#222" stroke="#222" stroke-width="0.04" textLength="2.4" lengthAdjust="spacingAndGlyphs">6</text>
<text x="371.2" y="79.71" font-family="Liberation Sans, Arial, sans-serif" font-size="5.5" fill="#222" stroke="#222" stroke-width="0.04" textLength="2.4" lengthAdjust="spacingAndGlyphs">8</text>
<text x="368.8" y="89.52" font-family="Liberation Sans, Arial, sans-serif" font-size="5.5" fill="#222" stroke="#222" stroke-width="0.04" textLength="4.8" lengthAdjust="spacingAndGlyphs">10</text>
<text x="368.8" y="99.33" font-family="Liberation Sans, Arial, sans-serif" font-size="5.5" fill="#222" stroke="#222" stroke-width="0.04" textLength="4.8" lengthAdjust="spacingAndGlyphs">12</text>
<text x="368.8" y="109.14" font-family="Liberation Sans, Arial, sans-serif" font-size="5.5" fill="#222" stroke="#222" stroke-width="0.04" textLength="4.8" lengthAdjust="spacingAndGlyphs">14</text>
<text x="368.8" y="118.95" font-family="Liberation Sans, Arial, sans-serif" font-size="5.5" fill="#222" stroke="#222" stroke-width="0.04" textLength="4.8" lengthAdjust="spacingAndGlyphs">16</text>
<text x="368.8" y="128.76" font-family="Liberation Sans, Arial, sans-serif" font-size="5.5" fill="#222" stroke="#222" stroke-width="0.04" textLength="4.8" lengthAdjust="spacingAndGlyphs">18</text>
<text x="368.8" y="138.57" font-family="Liberation Sans, Arial, sans-serif" font-size="5.5" fill="#222" stroke="#222" stroke-width="0.04" textLength="4.8" lengthAdjust="spacingAndGlyphs">20</text>
<text x="368.8" y="148.38" font-family="Liberation Sans, Arial, sans-serif" font-size="5.5" fill="#222" stroke="#222" stroke-width="0.04" textLength="4.8" lengthAdjust="spacingAndGlyphs">22</text>
<text x="368.8" y="158.19" font-family="Liberation Sans, Arial, sans-serif" font-size="5.5" fill="#222" stroke="#222" stroke-width="0.04" textLength="4.8" lengthAdjust="spacingAndGlyphs">24</text>
<text x="368.8" y="168" font-family="Liberation Sans, Arial, sans-serif" font-size="5.5" fill="#222" stroke="#222" stroke-width="0.04" textLength="4.8" lengthAdjust="spacingAndGlyphs">26</text>
<text x="368.8" y="177.81" font-family="Liberation Sans, Arial, sans-serif" font-size="5.5" fill="#222" stroke="#222" stroke-width="0.04" textLength="4.8" lengthAdjust="spacingAndGlyphs">28</text>
<text x="368.8" y="187.62" font-family="Liberation Sans, Arial, sans-serif" font-size="5.5" fill="#222" stroke="#222" stroke-width="0.04" textLength="4.8" lengthAdjust="spacingAndGlyphs">30</text>
<text x="368.8" y="197.43" font-family="Liberation Sans, Arial, sans-serif" font-size="5.5" fill="#222" stroke="#222" stroke-width="0.04" textLength="4.8" lengthAdjust="spacingAndGlyphs">32</text>
<text x="368.8" y="207.24" font-family="Liberation Sans, Arial, sans-serif" font-size="5.5" fill="#222" stroke="#222" stroke-width="0.04" textLength="4.8" lengthAdjust="spacingAndGlyphs">34</text>
<text x="368.8" y="217.05" font-family="Liberation Sans, Arial, sans-serif" font-size="5.5" fill="#222" stroke="#222" stroke-width="0.04" textLength="4.8" lengthAdjust="spacingAndGlyphs">36</text>
<text x="368.8" y="226.86" font-family="Liberation Sans, Arial, sans-serif" font-size="5.5" fill="#222" stroke="#222" stroke-width="0.04" textLength="4.8" lengthAdjust="spacingAndGlyphs">38</text>
<text x="368.8" y="236.67" font-family="Liberation Sans, Arial, sans-serif" font-size="5.5" fill="#222" stroke="#222" stroke-width="0.04" textLength="4.8" lengthAdjust="spacingAndGlyphs">40</text>
<text x="508.25" y="253.6" font-family="Liberation Sans, Arial, sans-serif" font-size="5.1" fill="#222" stroke="#222" stroke-width="0.04" textLength="33" lengthAdjust="spacingAndGlyphs">Time [hh:mm.ss]</text>
<text transform="translate(365.6 136.6) rotate(-90)" x="-12.5" y="0" font-family="Liberation Sans, Arial, sans-serif" font-size="4.6" fill="#222" stroke="#222" stroke-width="0.1" textLength="25" lengthAdjust="spacingAndGlyphs">Depth [mm]</text>
</g>
<g id="chart-c" class="ax">
<path d="M69.5 351.5V569.7M107.5 351.5V569.7M145.5 351.5V569.7M183.5 351.5V569.7M221.5 351.5V569.7M259.5 351.5V569.7M297.5 351.5V569.7M34.5 382.5H320.5M34.5 408.5H320.5M34.5 434.5H320.5M34.5 460.5H320.5M34.5 486.5H320.5M34.5 513.5H320.5M34.5 539.5H320.5" stroke="#dedede" stroke-width="1" fill="none"/>
<path d="M35.5 377.5H319.1" stroke="#3c3cf0" stroke-width="1.0" fill="none"/>
<path d="M35.5 539H319.1" stroke="#3c3cf0" stroke-width="1" fill="none"/>
<path d="M227.4 356.1V565.4" stroke="#ad4444" stroke-width="1.0" fill="none"/>
<path d="M285 356.1V565.4" stroke="#ad4444" stroke-width="1.0" fill="none"/>
<polyline points="35.3,561.72 37.19,561.73 39.07,561.6 40.96,561.96 42.84,562.03 44.73,561.77 46.62,561.77 48.5,561.57 50.39,561.57 52.28,561.69 54.16,561.65 56.05,561.93 57.93,561.59 59.82,561.52 61.71,561.98 63.59,561.76 65.48,561.57 67.37,561.76 69.25,561.5 71.14,561.75 73.02,561.97 74.91,561.91 76.8,561.82 78.68,561.6 80.57,561.65 82.46,561.55 84.34,561.85 86.23,561.72 88.11,561.84 90,561.61 91.88,561.55 93.75,561.83 95.62,561.9 97.5,561.83 99.38,561.79 101.25,561.78 103.12,561.73 105,561.46 106.88,561.6 108.75,561.5 110.62,561.33 112.5,561.31 114.38,561.43 116.25,561.4 118.12,561.61 120,561.73 121.88,561.45 123.75,561.68 125.62,561.69 127.5,561.65 129.38,561.34 131.25,561.25 133.12,561.23 135,561.2 136.88,561.18 138.75,561.37 140.62,561.49 142.5,561.45 144.38,561.25 146.25,561.31 148.12,561.37 150,560.99 152,561.36 154,561.55 156,561.57 158,561.63 160,561.49 162,561.34 164,561.64 166,561.42 168,561.65 170,561.74 172.35,560.85 174.7,560.25 176.63,560.79 178.57,560.95 180.5,560.94 182.47,560.45 184.43,559.99 186.4,559.9 188.15,559.63 189.9,559.07 191.65,559.19 193.4,559.04 195.15,558.83 196.9,558.63 198.65,558.67 200.4,558.42 202.33,558.19 204.27,558.5 206.2,558.1 208,556.6 209.7,555.3 211.5,554.8 213.2,554.1 215,553.2 216.7,552.3 219.1,546.9 220.9,548.8 223.3,543.6 225.4,542.9 227,535.2 228.6,546.9 230.5,521.2 232.1,523.1 233.8,519.6 235.4,523.5 237.3,520.7 239.1,509.8 240.8,497.4 242.2,495.7 244,501.6 245.9,517.2 247.8,486.9 249.4,485.7 250.6,468 252.5,465.1 254.6,459.1 256.2,461 258.1,458.5 259.9,453 261.1,461.6 263,423.4 264.6,427.9 266.2,414.6 267.9,411.1 269.7,419.7 271.3,427.5 273,411.9 274.6,409.1 276,405.4 277.9,380.9 279.5,384.6 281.4,384.6 283.2,380.9 284.8,362.1 286.5,361.5 287.9,364.5 289.9,355.9 291.4,360.4 292.8,394.8 294.4,363.1 296.1,408.5 298.1,358 299.7,359.8 301.4,359.4 303,381.5 304.4,368.6 305.9,372.7 307.5,358.8 309.1,364.5 310.8,355.3 312.2,369.6 313.6,372.1 315.7,355.3 317.7,355.9 319.4,356.4" stroke="#2d9c2d" stroke-width="0.75" fill="none" stroke-linejoin="round"/>
<path d="M34.35 561.72a0.95 1.55 0 1 0 1.9 0a0.95 1.55 0 1 0 -1.9 0M36.24 561.73a0.95 1.55 0 1 0 1.9 0a0.95 1.55 0 1 0 -1.9 0M38.12 561.6a0.95 1.55 0 1 0 1.9 0a0.95 1.55 0 1 0 -1.9 0M40.01 561.96a0.95 1.55 0 1 0 1.9 0a0.95 1.55 0 1 0 -1.9 0M41.89 562.03a0.95 1.55 0 1 0 1.9 0a0.95 1.55 0 1 0 -1.9 0M43.78 561.77a0.95 1.55 0 1 0 1.9 0a0.95 1.55 0 1 0 -1.9 0M45.67 561.77a0.95 1.55 0 1 0 1.9 0a0.95 1.55 0 1 0 -1.9 0M47.55 561.57a0.95 1.55 0 1 0 1.9 0a0.95 1.55 0 1 0 -1.9 0M49.44 561.57a0.95 1.55 0 1 0 1.9 0a0.95 1.55 0 1 0 -1.9 0M51.33 561.69a0.95 1.55 0 1 0 1.9 0a0.95 1.55 0 1 0 -1.9 0M53.21 561.65a0.95 1.55 0 1 0 1.9 0a0.95 1.55 0 1 0 -1.9 0M55.1 561.93a0.95 1.55 0 1 0 1.9 0a0.95 1.55 0 1 0 -1.9 0M56.98 561.59a0.95 1.55 0 1 0 1.9 0a0.95 1.55 0 1 0 -1.9 0M58.87 561.52a0.95 1.55 0 1 0 1.9 0a0.95 1.55 0 1 0 -1.9 0M60.76 561.98a0.95 1.55 0 1 0 1.9 0a0.95 1.55 0 1 0 -1.9 0M62.64 561.76a0.95 1.55 0 1 0 1.9 0a0.95 1.55 0 1 0 -1.9 0M64.53 561.57a0.95 1.55 0 1 0 1.9 0a0.95 1.55 0 1 0 -1.9 0M66.42 561.76a0.95 1.55 0 1 0 1.9 0a0.95 1.55 0 1 0 -1.9 0M68.3 561.5a0.95 1.55 0 1 0 1.9 0a0.95 1.55 0 1 0 -1.9 0M70.19 561.75a0.95 1.55 0 1 0 1.9 0a0.95 1.55 0 1 0 -1.9 0M72.07 561.97a0.95 1.55 0 1 0 1.9 0a0.95 1.55 0 1 0 -1.9 0M73.96 561.91a0.95 1.55 0 1 0 1.9 0a0.95 1.55 0 1 0 -1.9 0M75.85 561.82a0.95 1.55 0 1 0 1.9 0a0.95 1.55 0 1 0 -1.9 0M77.73 561.6a0.95 1.55 0 1 0 1.9 0a0.95 1.55 0 1 0 -1.9 0M79.62 561.65a0.95 1.55 0 1 0 1.9 0a0.95 1.55 0 1 0 -1.9 0M81.51 561.55a0.95 1.55 0 1 0 1.9 0a0.95 1.55 0 1 0 -1.9 0M83.39 561.85a0.95 1.55 0 1 0 1.9 0a0.95 1.55 0 1 0 -1.9 0M85.28 561.72a0.95 1.55 0 1 0 1.9 0a0.95 1.55 0 1 0 -1.9 0M87.16 561.84a0.95 1.55 0 1 0 1.9 0a0.95 1.55 0 1 0 -1.9 0M89.05 561.61a0.95 1.55 0 1 0 1.9 0a0.95 1.55 0 1 0 -1.9 0M90.92 561.55a0.95 1.55 0 1 0 1.9 0a0.95 1.55 0 1 0 -1.9 0M92.8 561.83a0.95 1.55 0 1 0 1.9 0a0.95 1.55 0 1 0 -1.9 0M94.67 561.9a0.95 1.55 0 1 0 1.9 0a0.95 1.55 0 1 0 -1.9 0M96.55 561.83a0.95 1.55 0 1 0 1.9 0a0.95 1.55 0 1 0 -1.9 0M98.42 561.79a0.95 1.55 0 1 0 1.9 0a0.95 1.55 0 1 0 -1.9 0M100.3 561.78a0.95 1.55 0 1 0 1.9 0a0.95 1.55 0 1 0 -1.9 0M102.17 561.73a0.95 1.55 0 1 0 1.9 0a0.95 1.55 0 1 0 -1.9 0M104.05 561.46a0.95 1.55 0 1 0 1.9 0a0.95 1.55 0 1 0 -1.9 0M105.92 561.6a0.95 1.55 0 1 0 1.9 0a0.95 1.55 0 1 0 -1.9 0M107.8 561.5a0.95 1.55 0 1 0 1.9 0a0.95 1.55 0 1 0 -1.9 0M109.67 561.33a0.95 1.55 0 1 0 1.9 0a0.95 1.55 0 1 0 -1.9 0M111.55 561.31a0.95 1.55 0 1 0 1.9 0a0.95 1.55 0 1 0 -1.9 0M113.42 561.43a0.95 1.55 0 1 0 1.9 0a0.95 1.55 0 1 0 -1.9 0M115.3 561.4a0.95 1.55 0 1 0 1.9 0a0.95 1.55 0 1 0 -1.9 0M117.17 561.61a0.95 1.55 0 1 0 1.9 0a0.95 1.55 0 1 0 -1.9 0M119.05 561.73a0.95 1.55 0 1 0 1.9 0a0.95 1.55 0 1 0 -1.9 0M120.92 561.45a0.95 1.55 0 1 0 1.9 0a0.95 1.55 0 1 0 -1.9 0M122.8 561.68a0.95 1.55 0 1 0 1.9 0a0.95 1.55 0 1 0 -1.9 0M124.67 561.69a0.95 1.55 0 1 0 1.9 0a0.95 1.55 0 1 0 -1.9 0M126.55 561.65a0.95 1.55 0 1 0 1.9 0a0.95 1.55 0 1 0 -1.9 0M128.43 561.34a0.95 1.55 0 1 0 1.9 0a0.95 1.55 0 1 0 -1.9 0M130.3 561.25a0.95 1.55 0 1 0 1.9 0a0.95 1.55 0 1 0 -1.9 0M132.18 561.23a0.95 1.55 0 1 0 1.9 0a0.95 1.55 0 1 0 -1.9 0M134.05 561.2a0.95 1.55 0 1 0 1.9 0a0.95 1.55 0 1 0 -1.9 0M135.93 561.18a0.95 1.55 0 1 0 1.9 0a0.95 1.55 0 1 0 -1.9 0M137.8 561.37a0.95 1.55 0 1 0 1.9 0a0.95 1.55 0 1 0 -1.9 0M139.68 561.49a0.95 1.55 0 1 0 1.9 0a0.95 1.55 0 1 0 -1.9 0M141.55 561.45a0.95 1.55 0 1 0 1.9 0a0.95 1.55 0 1 0 -1.9 0M143.43 561.25a0.95 1.55 0 1 0 1.9 0a0.95 1.55 0 1 0 -1.9 0M145.3 561.31a0.95 1.55 0 1 0 1.9 0a0.95 1.55 0 1 0 -1.9 0M147.18 561.37a0.95 1.55 0 1 0 1.9 0a0.95 1.55 0 1 0 -1.9 0M149.05 560.99a0.95 1.55 0 1 0 1.9 0a0.95 1.55 0 1 0 -1.9 0M151.05 561.36a0.95 1.55 0 1 0 1.9 0a0.95 1.55 0 1 0 -1.9 0M153.05 561.55a0.95 1.55 0 1 0 1.9 0a0.95 1.55 0 1 0 -1.9 0M155.05 561.57a0.95 1.55 0 1 0 1.9 0a0.95 1.55 0 1 0 -1.9 0M157.05 561.63a0.95 1.55 0 1 0 1.9 0a0.95 1.55 0 1 0 -1.9 0M159.05 561.49a0.95 1.55 0 1 0 1.9 0a0.95 1.55 0 1 0 -1.9 0M161.05 561.34a0.95 1.55 0 1 0 1.9 0a0.95 1.55 0 1 0 -1.9 0M163.05 561.64a0.95 1.55 0 1 0 1.9 0a0.95 1.55 0 1 0 -1.9 0M165.05 561.42a0.95 1.55 0 1 0 1.9 0a0.95 1.55 0 1 0 -1.9 0M167.05 561.65a0.95 1.55 0 1 0 1.9 0a0.95 1.55 0 1 0 -1.9 0M169.05 561.74a0.95 1.55 0 1 0 1.9 0a0.95 1.55 0 1 0 -1.9 0M171.4 560.85a0.95 1.55 0 1 0 1.9 0a0.95 1.55 0 1 0 -1.9 0M173.75 560.25a0.95 1.55 0 1 0 1.9 0a0.95 1.55 0 1 0 -1.9 0M175.68 560.79a0.95 1.55 0 1 0 1.9 0a0.95 1.55 0 1 0 -1.9 0M177.62 560.95a0.95 1.55 0 1 0 1.9 0a0.95 1.55 0 1 0 -1.9 0M179.55 560.94a0.95 1.55 0 1 0 1.9 0a0.95 1.55 0 1 0 -1.9 0M181.52 560.45a0.95 1.55 0 1 0 1.9 0a0.95 1.55 0 1 0 -1.9 0M183.48 559.99a0.95 1.55 0 1 0 1.9 0a0.95 1.55 0 1 0 -1.9 0M185.45 559.9a0.95 1.55 0 1 0 1.9 0a0.95 1.55 0 1 0 -1.9 0M187.2 559.63a0.95 1.55 0 1 0 1.9 0a0.95 1.55 0 1 0 -1.9 0M188.95 559.07a0.95 1.55 0 1 0 1.9 0a0.95 1.55 0 1 0 -1.9 0M190.7 559.19a0.95 1.55 0 1 0 1.9 0a0.95 1.55 0 1 0 -1.9 0M192.45 559.04a0.95 1.55 0 1 0 1.9 0a0.95 1.55 0 1 0 -1.9 0M194.2 558.83a0.95 1.55 0 1 0 1.9 0a0.95 1.55 0 1 0 -1.9 0M195.95 558.63a0.95 1.55 0 1 0 1.9 0a0.95 1.55 0 1 0 -1.9 0M197.7 558.67a0.95 1.55 0 1 0 1.9 0a0.95 1.55 0 1 0 -1.9 0M199.45 558.42a0.95 1.55 0 1 0 1.9 0a0.95 1.55 0 1 0 -1.9 0M201.38 558.19a0.95 1.55 0 1 0 1.9 0a0.95 1.55 0 1 0 -1.9 0M203.32 558.5a0.95 1.55 0 1 0 1.9 0a0.95 1.55 0 1 0 -1.9 0M205.25 558.1a0.95 1.55 0 1 0 1.9 0a0.95 1.55 0 1 0 -1.9 0M207.05 556.6a0.95 1.55 0 1 0 1.9 0a0.95 1.55 0 1 0 -1.9 0M208.75 555.3a0.95 1.55 0 1 0 1.9 0a0.95 1.55 0 1 0 -1.9 0M210.55 554.8a0.95 1.55 0 1 0 1.9 0a0.95 1.55 0 1 0 -1.9 0M212.25 554.1a0.95 1.55 0 1 0 1.9 0a0.95 1.55 0 1 0 -1.9 0M214.05 553.2a0.95 1.55 0 1 0 1.9 0a0.95 1.55 0 1 0 -1.9 0M215.75 552.3a0.95 1.55 0 1 0 1.9 0a0.95 1.55 0 1 0 -1.9 0M218.15 546.9a0.95 1.55 0 1 0 1.9 0a0.95 1.55 0 1 0 -1.9 0M219.95 548.8a0.95 1.55 0 1 0 1.9 0a0.95 1.55 0 1 0 -1.9 0M222.35 543.6a0.95 1.55 0 1 0 1.9 0a0.95 1.55 0 1 0 -1.9 0M224.45 542.9a0.95 1.55 0 1 0 1.9 0a0.95 1.55 0 1 0 -1.9 0M226.05 535.2a0.95 1.55 0 1 0 1.9 0a0.95 1.55 0 1 0 -1.9 0M227.65 546.9a0.95 1.55 0 1 0 1.9 0a0.95 1.55 0 1 0 -1.9 0M229.55 521.2a0.95 1.55 0 1 0 1.9 0a0.95 1.55 0 1 0 -1.9 0M231.15 523.1a0.95 1.55 0 1 0 1.9 0a0.95 1.55 0 1 0 -1.9 0M232.85 519.6a0.95 1.55 0 1 0 1.9 0a0.95 1.55 0 1 0 -1.9 0M234.45 523.5a0.95 1.55 0 1 0 1.9 0a0.95 1.55 0 1 0 -1.9 0M236.35 520.7a0.95 1.55 0 1 0 1.9 0a0.95 1.55 0 1 0 -1.9 0M238.15 509.8a0.95 1.55 0 1 0 1.9 0a0.95 1.55 0 1 0 -1.9 0M239.85 497.4a0.95 1.55 0 1 0 1.9 0a0.95 1.55 0 1 0 -1.9 0M241.25 495.7a0.95 1.55 0 1 0 1.9 0a0.95 1.55 0 1 0 -1.9 0M243.05 501.6a0.95 1.55 0 1 0 1.9 0a0.95 1.55 0 1 0 -1.9 0M244.95 517.2a0.95 1.55 0 1 0 1.9 0a0.95 1.55 0 1 0 -1.9 0M246.85 486.9a0.95 1.55 0 1 0 1.9 0a0.95 1.55 0 1 0 -1.9 0M248.45 485.7a0.95 1.55 0 1 0 1.9 0a0.95 1.55 0 1 0 -1.9 0M249.65 468a0.95 1.55 0 1 0 1.9 0a0.95 1.55 0 1 0 -1.9 0M251.55 465.1a0.95 1.55 0 1 0 1.9 0a0.95 1.55 0 1 0 -1.9 0M253.65 459.1a0.95 1.55 0 1 0 1.9 0a0.95 1.55 0 1 0 -1.9 0M255.25 461a0.95 1.55 0 1 0 1.9 0a0.95 1.55 0 1 0 -1.9 0M257.15 458.5a0.95 1.55 0 1 0 1.9 0a0.95 1.55 0 1 0 -1.9 0M258.95 453a0.95 1.55 0 1 0 1.9 0a0.95 1.55 0 1 0 -1.9 0M260.15 461.6a0.95 1.55 0 1 0 1.9 0a0.95 1.55 0 1 0 -1.9 0M262.05 423.4a0.95 1.55 0 1 0 1.9 0a0.95 1.55 0 1 0 -1.9 0M263.65 427.9a0.95 1.55 0 1 0 1.9 0a0.95 1.55 0 1 0 -1.9 0M265.25 414.6a0.95 1.55 0 1 0 1.9 0a0.95 1.55 0 1 0 -1.9 0M266.95 411.1a0.95 1.55 0 1 0 1.9 0a0.95 1.55 0 1 0 -1.9 0M268.75 419.7a0.95 1.55 0 1 0 1.9 0a0.95 1.55 0 1 0 -1.9 0M270.35 427.5a0.95 1.55 0 1 0 1.9 0a0.95 1.55 0 1 0 -1.9 0M272.05 411.9a0.95 1.55 0 1 0 1.9 0a0.95 1.55 0 1 0 -1.9 0M273.65 409.1a0.95 1.55 0 1 0 1.9 0a0.95 1.55 0 1 0 -1.9 0M275.05 405.4a0.95 1.55 0 1 0 1.9 0a0.95 1.55 0 1 0 -1.9 0M276.95 380.9a0.95 1.55 0 1 0 1.9 0a0.95 1.55 0 1 0 -1.9 0M278.55 384.6a0.95 1.55 0 1 0 1.9 0a0.95 1.55 0 1 0 -1.9 0M280.45 384.6a0.95 1.55 0 1 0 1.9 0a0.95 1.55 0 1 0 -1.9 0M282.25 380.9a0.95 1.55 0 1 0 1.9 0a0.95 1.55 0 1 0 -1.9 0M283.85 362.1a0.95 1.55 0 1 0 1.9 0a0.95 1.55 0 1 0 -1.9 0M285.55 361.5a0.95 1.55 0 1 0 1.9 0a0.95 1.55 0 1 0 -1.9 0M286.95 364.5a0.95 1.55 0 1 0 1.9 0a0.95 1.55 0 1 0 -1.9 0M288.95 355.9a0.95 1.55 0 1 0 1.9 0a0.95 1.55 0 1 0 -1.9 0M290.45 360.4a0.95 1.55 0 1 0 1.9 0a0.95 1.55 0 1 0 -1.9 0M291.85 394.8a0.95 1.55 0 1 0 1.9 0a0.95 1.55 0 1 0 -1.9 0M293.45 363.1a0.95 1.55 0 1 0 1.9 0a0.95 1.55 0 1 0 -1.9 0M295.15 408.5a0.95 1.55 0 1 0 1.9 0a0.95 1.55 0 1 0 -1.9 0M297.15 358a0.95 1.55 0 1 0 1.9 0a0.95 1.55 0 1 0 -1.9 0M298.75 359.8a0.95 1.55 0 1 0 1.9 0a0.95 1.55 0 1 0 -1.9 0M300.45 359.4a0.95 1.55 0 1 0 1.9 0a0.95 1.55 0 1 0 -1.9 0M302.05 381.5a0.95 1.55 0 1 0 1.9 0a0.95 1.55 0 1 0 -1.9 0M303.45 368.6a0.95 1.55 0 1 0 1.9 0a0.95 1.55 0 1 0 -1.9 0M304.95 372.7a0.95 1.55 0 1 0 1.9 0a0.95 1.55 0 1 0 -1.9 0M306.55 358.8a0.95 1.55 0 1 0 1.9 0a0.95 1.55 0 1 0 -1.9 0M308.15 364.5a0.95 1.55 0 1 0 1.9 0a0.95 1.55 0 1 0 -1.9 0M309.85 355.3a0.95 1.55 0 1 0 1.9 0a0.95 1.55 0 1 0 -1.9 0M311.25 369.6a0.95 1.55 0 1 0 1.9 0a0.95 1.55 0 1 0 -1.9 0M312.65 372.1a0.95 1.55 0 1 0 1.9 0a0.95 1.55 0 1 0 -1.9 0M314.75 355.3a0.95 1.55 0 1 0 1.9 0a0.95 1.55 0 1 0 -1.9 0M316.75 355.9a0.95 1.55 0 1 0 1.9 0a0.95 1.55 0 1 0 -1.9 0M318.45 356.4a0.95 1.55 0 1 0 1.9 0a0.95 1.55 0 1 0 -1.9 0" fill="#0c260c"/>
<path d="M34.5 351.5H320.5V569.7" stroke="#484848" stroke-width="1.1" fill="none"/>
<path d="M34.5 351V570.3" stroke="#1c1c1c" stroke-width="1.35" fill="none"/>
<path d="M33.9 569.7H321" stroke="#1c1c1c" stroke-width="1.35" fill="none"/>
<path d="M32.5 356.1H34.5M32.5 382.26H34.5M32.5 408.43H34.5M32.5 434.59H34.5M32.5 460.75H34.5M32.5 486.91H34.5M32.5 513.08H34.5M32.5 539.24H34.5M32.5 565.4H34.5M33 361.33H34.5M33 366.56H34.5M33 371.8H34.5M33 377.03H34.5M33 387.5H34.5M33 392.73H34.5M33 397.96H34.5M33 403.19H34.5M33 413.66H34.5M33 418.89H34.5M33 424.12H34.5M33 429.36H34.5M33 439.82H34.5M33 445.05H34.5M33 450.29H34.5M33 455.52H34.5M33 465.98H34.5M33 471.22H34.5M33 476.45H34.5M33 481.68H34.5M33 492.14H34.5M33 497.38H34.5M33 502.61H34.5M33 507.84H34.5M33 518.31H34.5M33 523.54H34.5M33 528.77H34.5M33 534H34.5M33 544.47H34.5M33 549.7H34.5M33 554.93H34.5M33 560.17H34.5M69.6 569.7V572.7M107.62 569.7V572.7M145.64 569.7V572.7M183.66 569.7V572.7M221.68 569.7V572.7M259.7 569.7V572.7M297.72 569.7V572.7M44.25 569.7V571.2M56.93 569.7V571.2M82.27 569.7V571.2M94.95 569.7V571.2M120.29 569.7V571.2M132.97 569.7V571.2M158.31 569.7V571.2M170.99 569.7V571.2M196.33 569.7V571.2M209.01 569.7V571.2M234.35 569.7V571.2M247.03 569.7V571.2M272.37 569.7V571.2M285.05 569.7V571.2M310.39 569.7V571.2" stroke="#6e6e6e" stroke-width="0.8" fill="none"/>
<text x="55.5" y="581.9" font-family="Liberation Sans, Arial, sans-serif" font-size="9" fill="#222" stroke="#222" stroke-width="0.17" textLength="28.2" lengthAdjust="spacingAndGlyphs">02:00.00</text>
<text x="93.52" y="581.9" font-family="Liberation Sans, Arial, sans-serif" font-size="9" fill="#222" stroke="#222" stroke-width="0.17" textLength="28.2" lengthAdjust="spacingAndGlyphs">04:00.00</text>
<text x="131.54" y="581.9" font-family="Liberation Sans, Arial, sans-serif" font-size="9" fill="#222" stroke="#222" stroke-width="0.17" textLength="28.2" lengthAdjust="spacingAndGlyphs">06:00.00</text>
<text x="169.56" y="581.9" font-family="Liberation Sans, Arial, sans-serif" font-size="9" fill="#222" stroke="#222" stroke-width="0.17" textLength="28.2" lengthAdjust="spacingAndGlyphs">08:00.00</text>
<text x="207.58" y="581.9" font-family="Liberation Sans, Arial, sans-serif" font-size="9" fill="#222" stroke="#222" stroke-width="0.17" textLength="28.2" lengthAdjust="spacingAndGlyphs">10:00.00</text>
<text x="245.6" y="581.9" font-family="Liberation Sans, Arial, sans-serif" font-size="9" fill="#222" stroke="#222" stroke-width="0.17" textLength="28.2" lengthAdjust="spacingAndGlyphs">12:00.00</text>
<text x="283.62" y="581.9" font-family="Liberation Sans, Arial, sans-serif" font-size="9" fill="#222" stroke="#222" stroke-width="0.17" textLength="28.2" lengthAdjust="spacingAndGlyphs">14:00.00</text>
<text x="27.2" y="359.72" font-family="Liberation Sans, Arial, sans-serif" font-size="9" fill="#222" stroke="#222" stroke-width="0.17" textLength="3.9" lengthAdjust="spacingAndGlyphs">0</text>
<text x="27.2" y="385.88" font-family="Liberation Sans, Arial, sans-serif" font-size="9" fill="#222" stroke="#222" stroke-width="0.17" textLength="3.9" lengthAdjust="spacingAndGlyphs">5</text>
<text x="23.3" y="412.05" font-family="Liberation Sans, Arial, sans-serif" font-size="9" fill="#222" stroke="#222" stroke-width="0.17" textLength="7.8" lengthAdjust="spacingAndGlyphs">10</text>
<text x="23.3" y="438.21" font-family="Liberation Sans, Arial, sans-serif" font-size="9" fill="#222" stroke="#222" stroke-width="0.17" textLength="7.8" lengthAdjust="spacingAndGlyphs">15</text>
<text x="23.3" y="464.37" font-family="Liberation Sans, Arial, sans-serif" font-size="9" fill="#222" stroke="#222" stroke-width="0.17" textLength="7.8" lengthAdjust="spacingAndGlyphs">20</text>
<text x="23.3" y="490.53" font-family="Liberation Sans, Arial, sans-serif" font-size="9" fill="#222" stroke="#222" stroke-width="0.17" textLength="7.8" lengthAdjust="spacingAndGlyphs">25</text>
<text x="23.3" y="516.7" font-family="Liberation Sans, Arial, sans-serif" font-size="9" fill="#222" stroke="#222" stroke-width="0.17" textLength="7.8" lengthAdjust="spacingAndGlyphs">30</text>
<text x="23.3" y="542.86" font-family="Liberation Sans, Arial, sans-serif" font-size="9" fill="#222" stroke="#222" stroke-width="0.17" textLength="7.8" lengthAdjust="spacingAndGlyphs">35</text>
<text x="23.3" y="569.02" font-family="Liberation Sans, Arial, sans-serif" font-size="9" fill="#222" stroke="#222" stroke-width="0.17" textLength="7.8" lengthAdjust="spacingAndGlyphs">40</text>
<text x="152.25" y="591.8" font-family="Liberation Sans, Arial, sans-serif" font-size="8.3" fill="#222" stroke="#222" stroke-width="0.17" textLength="50.5" lengthAdjust="spacingAndGlyphs">Time [hh:mm.ss]</text>
<text transform="translate(20 460.6) rotate(-90)" x="-22.05" y="0" font-family="Liberation Sans, Arial, sans-serif" font-size="7.4" fill="#222" stroke="#222" stroke-width="0.3" textLength="44.1" lengthAdjust="spacingAndGlyphs">Depth [mm]</text>
</g>
<g id="chart-d" class="ax">
<path d="M429.5 352.7V603.3M470.5 352.7V603.3M511.5 352.7V603.3M552.5 352.7V603.3M593.5 352.7V603.3M634.5 352.7V603.3M391.1 387.5H671.4M391.1 418.5H671.4M391.1 448.5H671.4M391.1 478.5H671.4M391.1 508.5H671.4M391.1 538.5H671.4M391.1 568.5H671.4" stroke="#dedede" stroke-width="1" fill="none"/>
<path d="M392.1 381.5H670" stroke="#3c3cf0" stroke-width="1.0" fill="none"/>
<path d="M392.1 568.5H670" stroke="#3c3cf0" stroke-width="1" fill="none"/>
<path d="M444.4 357.8V598.6" stroke="#ad4444" stroke-width="1.0" fill="none"/>
<path d="M650.85 357.8V598.6" stroke="#ad4444" stroke-width="1.0" fill="none"/>
<polyline points="391.6,593.97 393.46,593.91 395.31,594.12 397.17,593.87 399.02,594.09 400.88,594.06 402.73,593.76 404.59,593.78 406.44,593.8 408.3,593.77 410.16,593.94 412.01,593.78 413.87,593.86 415.72,593.72 417.58,594.11 419.43,593.83 421.29,593.88 423.14,593.94 425,594.1 426.86,593.82 428.71,594.02 430.57,593.77 432.43,593.74 434.29,593.7 436.14,593.4 438,593.57 439.9,592.84 441.8,592.4 443.8,566.4 445.8,592.35 448,594.05 450,593.64 452,593.69 454,593.71 455.5,593.18 457,592.61 458.75,592.68 460.5,592.68 462.25,592.77 464,592.4 465.5,593.13 467,593.47 469,593.48 471,593.71 473,593.57 475,593.59 477,593.67 479,593.74 481,593.49 483,593.57 485,593.5 486.67,593.17 488.33,592.93 490,592.48 492,592.78 494,593.02 496,593.52 497.8,593.5 499.6,593.69 501.4,593.82 503.2,593.58 505,593.8 507,593.52 509.3,593.03 511.6,592.34 513.33,591.52 515.07,590.98 516.8,590.58 519,590.96 521.2,591.56 523.4,592.03 525.38,592.39 527.35,592.56 529.32,592.73 531.3,592.56 533.9,590.69 536.5,594.06 538.27,592.72 540.03,591.89 541.8,590.79 543.53,591.19 545.27,592.18 547,592.66 548.77,592.26 550.53,592.03 552.3,591.53 554.27,591.26 556.25,591.37 558.23,591.41 560.2,591.34 562.18,591.08 564.15,590.93 566.12,590.89 568.1,590.41 569.83,589.82 571.57,588.98 573.3,588.01 575.07,587.6 576.83,587.18 578.6,586.6 580.55,586.18 582.5,586.29 584.1,584.92 585.7,583.69 587.4,581.34 589.1,579.41 591.05,577.77 593,576.4 595.1,569.8 597,574.8 599.1,541.5 601.2,519.1 603.5,509.1 604.9,508 606.2,506.8 607.5,502.5 608.8,498.1 610.1,495.5 611.4,492.8 612.7,485 614,477.1 616.1,469.2 618,466.1 619.6,469.2 621.2,456.8 623.3,471.3 625.2,445.6 627.1,454.9 628.9,431.8 630.8,436.9 632.5,422.2 634.1,406.1 636,420.6 637.8,411.2 639.5,408.2 641.3,392.1 643.2,396.5 645.1,394.2 646.7,382 648.8,381.6 650.7,371.5 652.5,368 654.2,361 656,357.5 657.9,391.9 659.5,402.6 661.4,378.5 663,357.5 664.7,362.2 666.3,356.8 668,359.9 669.8,356.8 671.2,356.4" stroke="#2d9c2d" stroke-width="0.75" fill="none" stroke-linejoin="round"/>
<path d="M390.6 593.97a1 1.75 0 1 0 2 0a1 1.75 0 1 0 -2 0M392.46 593.91a1 1.75 0 1 0 2 0a1 1.75 0 1 0 -2 0M394.31 594.12a1 1.75 0 1 0 2 0a1 1.75 0 1 0 -2 0M396.17 593.87a1 1.75 0 1 0 2 0a1 1.75 0 1 0 -2 0M398.02 594.09a1 1.75 0 1 0 2 0a1 1.75 0 1 0 -2 0M399.88 594.06a1 1.75 0 1 0 2 0a1 1.75 0 1 0 -2 0M401.73 593.76a1 1.75 0 1 0 2 0a1 1.75 0 1 0 -2 0M403.59 593.78a1 1.75 0 1 0 2 0a1 1.75 0 1 0 -2 0M405.44 593.8a1 1.75 0 1 0 2 0a1 1.75 0 1 0 -2 0M407.3 593.77a1 1.75 0 1 0 2 0a1 1.75 0 1 0 -2 0M409.16 593.94a1 1.75 0 1 0 2 0a1 1.75 0 1 0 -2 0M411.01 593.78a1 1.75 0 1 0 2 0a1 1.75 0 1 0 -2 0M412.87 593.86a1 1.75 0 1 0 2 0a1 1.75 0 1 0 -2 0M414.72 593.72a1 1.75 0 1 0 2 0a1 1.75 0 1 0 -2 0M416.58 594.11a1 1.75 0 1 0 2 0a1 1.75 0 1 0 -2 0M418.43 593.83a1 1.75 0 1 0 2 0a1 1.75 0 1 0 -2 0M420.29 593.88a1 1.75 0 1 0 2 0a1 1.75 0 1 0 -2 0M422.14 593.94a1 1.75 0 1 0 2 0a1 1.75 0 1 0 -2 0M424 594.1a1 1.75 0 1 0 2 0a1 1.75 0 1 0 -2 0M425.86 593.82a1 1.75 0 1 0 2 0a1 1.75 0 1 0 -2 0M427.71 594.02a1 1.75 0 1 0 2 0a1 1.75 0 1 0 -2 0M429.57 593.77a1 1.75 0 1 0 2 0a1 1.75 0 1 0 -2 0M431.43 593.74a1 1.75 0 1 0 2 0a1 1.75 0 1 0 -2 0M433.29 593.7a1 1.75 0 1 0 2 0a1 1.75 0 1 0 -2 0M435.14 593.4a1 1.75 0 1 0 2 0a1 1.75 0 1 0 -2 0M437 593.57a1 1.75 0 1 0 2 0a1 1.75 0 1 0 -2 0M438.9 592.84a1 1.75 0 1 0 2 0a1 1.75 0 1 0 -2 0M440.8 592.4a1 1.75 0 1 0 2 0a1 1.75 0 1 0 -2 0M442.8 566.4a1 1.75 0 1 0 2 0a1 1.75 0 1 0 -2 0M444.8 592.35a1 1.75 0 1 0 2 0a1 1.75 0 1 0 -2 0M447 594.05a1 1.75 0 1 0 2 0a1 1.75 0 1 0 -2 0M449 593.64a1 1.75 0 1 0 2 0a1 1.75 0 1 0 -2 0M451 593.69a1 1.75 0 1 0 2 0a1 1.75 0 1 0 -2 0M453 593.71a1 1.75 0 1 0 2 0a1 1.75 0 1 0 -2 0M454.5 593.18a1 1.75 0 1 0 2 0a1 1.75 0 1 0 -2 0M456 592.61a1 1.75 0 1 0 2 0a1 1.75 0 1 0 -2 0M457.75 592.68a1 1.75 0 1 0 2 0a1 1.75 0 1 0 -2 0M459.5 592.68a1 1.75 0 1 0 2 0a1 1.75 0 1 0 -2 0M461.25 592.77a1 1.75 0 1 0 2 0a1 1.75 0 1 0 -2 0M463 592.4a1 1.75 0 1 0 2 0a1 1.75 0 1 0 -2 0M464.5 593.13a1 1.75 0 1 0 2 0a1 1.75 0 1 0 -2 0M466 593.47a1 1.75 0 1 0 2 0a1 1.75 0 1 0 -2 0M468 593.48a1 1.75 0 1 0 2 0a1 1.75 0 1 0 -2 0M470 593.71a1 1.75 0 1 0 2 0a1 1.75 0 1 0 -2 0M472 593.57a1 1.75 0 1 0 2 0a1 1.75 0 1 0 -2 0M474 593.59a1 1.75 0 1 0 2 0a1 1.75 0 1 0 -2 0M476 593.67a1 1.75 0 1 0 2 0a1 1.75 0 1 0 -2 0M478 593.74a1 1.75 0 1 0 2 0a1 1.75 0 1 0 -2 0M480 593.49a1 1.75 0 1 0 2 0a1 1.75 0 1 0 -2 0M482 593.57a1 1.75 0 1 0 2 0a1 1.75 0 1 0 -2 0M484 593.5a1 1.75 0 1 0 2 0a1 1.75 0 1 0 -2 0M485.67 593.17a1 1.75 0 1 0 2 0a1 1.75 0 1 0 -2 0M487.33 592.93a1 1.75 0 1 0 2 0a1 1.75 0 1 0 -2 0M489 592.48a1 1.75 0 1 0 2 0a1 1.75 0 1 0 -2 0M491 592.78a1 1.75 0 1 0 2 0a1 1.75 0 1 0 -2 0M493 593.02a1 1.75 0 1 0 2 0a1 1.75 0 1 0 -2 0M495 593.52a1 1.75 0 1 0 2 0a1 1.75 0 1 0 -2 0M496.8 593.5a1 1.75 0 1 0 2 0a1 1.75 0 1 0 -2 0M498.6 593.69a1 1.75 0 1 0 2 0a1 1.75 0 1 0 -2 0M500.4 593.82a1 1.75 0 1 0 2 0a1 1.75 0 1 0 -2 0M502.2 593.58a1 1.75 0 1 0 2 0a1 1.75 0 1 0 -2 0M504 593.8a1 1.75 0 1 0 2 0a1 1.75 0 1 0 -2 0M506 593.52a1 1.75 0 1 0 2 0a1 1.75 0 1 0 -2 0M508.3 593.03a1 1.75 0 1 0 2 0a1 1.75 0 1 0 -2 0M510.6 592.34a1 1.75 0 1 0 2 0a1 1.75 0 1 0 -2 0M512.33 591.52a1 1.75 0 1 0 2 0a1 1.75 0 1 0 -2 0M514.07 590.98a1 1.75 0 1 0 2 0a1 1.75 0 1 0 -2 0M515.8 590.58a1 1.75 0 1 0 2 0a1 1.75 0 1 0 -2 0M518 590.96a1 1.75 0 1 0 2 0a1 1.75 0 1 0 -2 0M520.2 591.56a1 1.75 0 1 0 2 0a1 1.75 0 1 0 -2 0M522.4 592.03a1 1.75 0 1 0 2 0a1 1.75 0 1 0 -2 0M524.38 592.39a1 1.75 0 1 0 2 0a1 1.75 0 1 0 -2 0M526.35 592.56a1 1.75 0 1 0 2 0a1 1.75 0 1 0 -2 0M528.32 592.73a1 1.75 0 1 0 2 0a1 1.75 0 1 0 -2 0M530.3 592.56a1 1.75 0 1 0 2 0a1 1.75 0 1 0 -2 0M532.9 590.69a1 1.75 0 1 0 2 0a1 1.75 0 1 0 -2 0M535.5 594.06a1 1.75 0 1 0 2 0a1 1.75 0 1 0 -2 0M537.27 592.72a1 1.75 0 1 0 2 0a1 1.75 0 1 0 -2 0M539.03 591.89a1 1.75 0 1 0 2 0a1 1.75 0 1 0 -2 0M540.8 590.79a1 1.75 0 1 0 2 0a1 1.75 0 1 0 -2 0M542.53 591.19a1 1.75 0 1 0 2 0a1 1.75 0 1 0 -2 0M544.27 592.18a1 1.75 0 1 0 2 0a1 1.75 0 1 0 -2 0M546 592.66a1 1.75 0 1 0 2 0a1 1.75 0 1 0 -2 0M547.77 592.26a1 1.75 0 1 0 2 0a1 1.75 0 1 0 -2 0M549.53 592.03a1 1.75 0 1 0 2 0a1 1.75 0 1 0 -2 0M551.3 591.53a1 1.75 0 1 0 2 0a1 1.75 0 1 0 -2 0M553.27 591.26a1 1.75 0 1 0 2 0a1 1.75 0 1 0 -2 0M555.25 591.37a1 1.75 0 1 0 2 0a1 1.75 0 1 0 -2 0M557.23 591.41a1 1.75 0 1 0 2 0a1 1.75 0 1 0 -2 0M559.2 591.34a1 1.75 0 1 0 2 0a1 1.75 0 1 0 -2 0M561.18 591.08a1 1.75 0 1 0 2 0a1 1.75 0 1 0 -2 0M563.15 590.93a1 1.75 0 1 0 2 0a1 1.75 0 1 0 -2 0M565.12 590.89a1 1.75 0 1 0 2 0a1 1.75 0 1 0 -2 0M567.1 590.41a1 1.75 0 1 0 2 0a1 1.75 0 1 0 -2 0M568.83 589.82a1 1.75 0 1 0 2 0a1 1.75 0 1 0 -2 0M570.57 588.98a1 1.75 0 1 0 2 0a1 1.75 0 1 0 -2 0M572.3 588.01a1 1.75 0 1 0 2 0a1 1.75 0 1 0 -2 0M574.07 587.6a1 1.75 0 1 0 2 0a1 1.75 0 1 0 -2 0M575.83 587.18a1 1.75 0 1 0 2 0a1 1.75 0 1 0 -2 0M577.6 586.6a1 1.75 0 1 0 2 0a1 1.75 0 1 0 -2 0M579.55 586.18a1 1.75 0 1 0 2 0a1 1.75 0 1 0 -2 0M581.5 586.29a1 1.75 0 1 0 2 0a1 1.75 0 1 0 -2 0M583.1 584.92a1 1.75 0 1 0 2 0a1 1.75 0 1 0 -2 0M584.7 583.69a1 1.75 0 1 0 2 0a1 1.75 0 1 0 -2 0M586.4 581.34a1 1.75 0 1 0 2 0a1 1.75 0 1 0 -2 0M588.1 579.41a1 1.75 0 1 0 2 0a1 1.75 0 1 0 -2 0M590.05 577.77a1 1.75 0 1 0 2 0a1 1.75 0 1 0 -2 0M592 576.4a1 1.75 0 1 0 2 0a1 1.75 0 1 0 -2 0M594.1 569.8a1 1.75 0 1 0 2 0a1 1.75 0 1 0 -2 0M596 574.8a1 1.75 0 1 0 2 0a1 1.75 0 1 0 -2 0M598.1 541.5a1 1.75 0 1 0 2 0a1 1.75 0 1 0 -2 0M600.2 519.1a1 1.75 0 1 0 2 0a1 1.75 0 1 0 -2 0M602.5 509.1a1 1.75 0 1 0 2 0a1 1.75 0 1 0 -2 0M603.9 508a1 1.75 0 1 0 2 0a1 1.75 0 1 0 -2 0M605.2 506.8a1 1.75 0 1 0 2 0a1 1.75 0 1 0 -2 0M606.5 502.5a1 1.75 0 1 0 2 0a1 1.75 0 1 0 -2 0M607.8 498.1a1 1.75 0 1 0 2 0a1 1.75 0 1 0 -2 0M609.1 495.5a1 1.75 0 1 0 2 0a1 1.75 0 1 0 -2 0M610.4 492.8a1 1.75 0 1 0 2 0a1 1.75 0 1 0 -2 0M611.7 485a1 1.75 0 1 0 2 0a1 1.75 0 1 0 -2 0M613 477.1a1 1.75 0 1 0 2 0a1 1.75 0 1 0 -2 0M615.1 469.2a1 1.75 0 1 0 2 0a1 1.75 0 1 0 -2 0M617 466.1a1 1.75 0 1 0 2 0a1 1.75 0 1 0 -2 0M618.6 469.2a1 1.75 0 1 0 2 0a1 1.75 0 1 0 -2 0M620.2 456.8a1 1.75 0 1 0 2 0a1 1.75 0 1 0 -2 0M622.3 471.3a1 1.75 0 1 0 2 0a1 1.75 0 1 0 -2 0M624.2 445.6a1 1.75 0 1 0 2 0a1 1.75 0 1 0 -2 0M626.1 454.9a1 1.75 0 1 0 2 0a1 1.75 0 1 0 -2 0M627.9 431.8a1 1.75 0 1 0 2 0a1 1.75 0 1 0 -2 0M629.8 436.9a1 1.75 0 1 0 2 0a1 1.75 0 1 0 -2 0M631.5 422.2a1 1.75 0 1 0 2 0a1 1.75 0 1 0 -2 0M633.1 406.1a1 1.75 0 1 0 2 0a1 1.75 0 1 0 -2 0M635 420.6a1 1.75 0 1 0 2 0a1 1.75 0 1 0 -2 0M636.8 411.2a1 1.75 0 1 0 2 0a1 1.75 0 1 0 -2 0M638.5 408.2a1 1.75 0 1 0 2 0a1 1.75 0 1 0 -2 0M640.3 392.1a1 1.75 0 1 0 2 0a1 1.75 0 1 0 -2 0M642.2 396.5a1 1.75 0 1 0 2 0a1 1.75 0 1 0 -2 0M644.1 394.2a1 1.75 0 1 0 2 0a1 1.75 0 1 0 -2 0M645.7 382a1 1.75 0 1 0 2 0a1 1.75 0 1 0 -2 0M647.8 381.6a1 1.75 0 1 0 2 0a1 1.75 0 1 0 -2 0M649.7 371.5a1 1.75 0 1 0 2 0a1 1.75 0 1 0 -2 0M651.5 368a1 1.75 0 1 0 2 0a1 1.75 0 1 0 -2 0M653.2 361a1 1.75 0 1 0 2 0a1 1.75 0 1 0 -2 0M655 357.5a1 1.75 0 1 0 2 0a1 1.75 0 1 0 -2 0M656.9 391.9a1 1.75 0 1 0 2 0a1 1.75 0 1 0 -2 0M658.5 402.6a1 1.75 0 1 0 2 0a1 1.75 0 1 0 -2 0M660.4 378.5a1 1.75 0 1 0 2 0a1 1.75 0 1 0 -2 0M662 357.5a1 1.75 0 1 0 2 0a1 1.75 0 1 0 -2 0M663.7 362.2a1 1.75 0 1 0 2 0a1 1.75 0 1 0 -2 0M665.3 356.8a1 1.75 0 1 0 2 0a1 1.75 0 1 0 -2 0M667 359.9a1 1.75 0 1 0 2 0a1 1.75 0 1 0 -2 0M668.8 356.8a1 1.75 0 1 0 2 0a1 1.75 0 1 0 -2 0M670.2 356.4a1 1.75 0 1 0 2 0a1 1.75 0 1 0 -2 0" fill="#0c260c"/>
<path d="M391.1 352.7H671.4V603.3" stroke="#484848" stroke-width="1.1" fill="none"/>
<path d="M391.1 352.2V603.9" stroke="#3a3a3a" stroke-width="1.9" fill="none"/>
<path d="M390.5 603.3H671.9" stroke="#1c1c1c" stroke-width="1.35" fill="none"/>
<path d="M389.1 357.8H391.1M389.1 387.9H391.1M389.1 418H391.1M389.1 448.1H391.1M389.1 478.2H391.1M389.1 508.3H391.1M389.1 538.4H391.1M389.1 568.5H391.1M389.1 598.6H391.1M389.6 363.82H391.1M389.6 369.84H391.1M389.6 375.86H391.1M389.6 381.88H391.1M389.6 393.92H391.1M389.6 399.94H391.1M389.6 405.96H391.1M389.6 411.98H391.1M389.6 424.02H391.1M389.6 430.04H391.1M389.6 436.06H391.1M389.6 442.08H391.1M389.6 454.12H391.1M389.6 460.14H391.1M389.6 466.16H391.1M389.6 472.18H391.1M389.6 484.22H391.1M389.6 490.24H391.1M389.6 496.26H391.1M389.6 502.28H391.1M389.6 514.32H391.1M389.6 520.34H391.1M389.6 526.36H391.1M389.6 532.38H391.1M389.6 544.42H391.1M389.6 550.44H391.1M389.6 556.46H391.1M389.6 562.48H391.1M389.6 574.52H391.1M389.6 580.54H391.1M389.6 586.56H391.1M389.6 592.58H391.1M429.6 603.3V606.3M470.57 603.3V606.3M511.54 603.3V606.3M552.51 603.3V606.3M593.48 603.3V606.3M634.45 603.3V606.3M402.29 603.3V604.8M415.94 603.3V604.8M443.26 603.3V604.8M456.91 603.3V604.8M484.23 603.3V604.8M497.88 603.3V604.8M525.2 603.3V604.8M538.85 603.3V604.8M566.17 603.3V604.8M579.82 603.3V604.8M607.14 603.3V604.8M620.79 603.3V604.8M648.11 603.3V604.8M661.76 603.3V604.8" stroke="#6e6e6e" stroke-width="0.8" fill="none"/>
<text x="415.8" y="617.2" font-family="Liberation Sans, Arial, sans-serif" font-size="10.2" fill="#222" stroke="#222" stroke-width="0.19" textLength="27.6" lengthAdjust="spacingAndGlyphs">02:00.00</text>
<text x="456.77" y="617.2" font-family="Liberation Sans, Arial, sans-serif" font-size="10.2" fill="#222" stroke="#222" stroke-width="0.19" textLength="27.6" lengthAdjust="spacingAndGlyphs">04:00.00</text>
<text x="497.74" y="617.2" font-family="Liberation Sans, Arial, sans-serif" font-size="10.2" fill="#222" stroke="#222" stroke-width="0.19" textLength="27.6" lengthAdjust="spacingAndGlyphs">06:00.00</text>
<text x="538.71" y="617.2" font-family="Liberation Sans, Arial, sans-serif" font-size="10.2" fill="#222" stroke="#222" stroke-width="0.19" textLength="27.6" lengthAdjust="spacingAndGlyphs">08:00.00</text>
<text x="579.68" y="617.2" font-family="Liberation Sans, Arial, sans-serif" font-size="10.2" fill="#222" stroke="#222" stroke-width="0.19" textLength="27.6" lengthAdjust="spacingAndGlyphs">10:00.00</text>
<text x="620.65" y="617.2" font-family="Liberation Sans, Arial, sans-serif" font-size="10.2" fill="#222" stroke="#222" stroke-width="0.19" textLength="27.6" lengthAdjust="spacingAndGlyphs">12:00.00</text>
<text x="383.85" y="361.85" font-family="Liberation Sans, Arial, sans-serif" font-size="10.2" fill="#222" stroke="#222" stroke-width="0.19" textLength="3.75" lengthAdjust="spacingAndGlyphs">0</text>
<text x="383.85" y="391.95" font-family="Liberation Sans, Arial, sans-serif" font-size="10.2" fill="#222" stroke="#222" stroke-width="0.19" textLength="3.75" lengthAdjust="spacingAndGlyphs">5</text>
<text x="380.1" y="422.05" font-family="Liberation Sans, Arial, sans-serif" font-size="10.2" fill="#222" stroke="#222" stroke-width="0.19" textLength="7.5" lengthAdjust="spacingAndGlyphs">10</text>
<text x="380.1" y="452.15" font-family="Liberation Sans, Arial, sans-serif" font-size="10.2" fill="#222" stroke="#222" stroke-width="0.19" textLength="7.5" lengthAdjust="spacingAndGlyphs">15</text>
<text x="380.1" y="482.25" font-family="Liberation Sans, Arial, sans-serif" font-size="10.2" fill="#222" stroke="#222" stroke-width="0.19" textLength="7.5" lengthAdjust="spacingAndGlyphs">20</text>
<text x="380.1" y="512.35" font-family="Liberation Sans, Arial, sans-serif" font-size="10.2" fill="#222" stroke="#222" stroke-width="0.19" textLength="7.5" lengthAdjust="spacingAndGlyphs">25</text>
<text x="380.1" y="542.45" font-family="Liberation Sans, Arial, sans-serif" font-size="10.2" fill="#222" stroke="#222" stroke-width="0.19" textLength="7.5" lengthAdjust="spacingAndGlyphs">30</text>
<text x="380.1" y="572.55" font-family="Liberation Sans, Arial, sans-serif" font-size="10.2" fill="#222" stroke="#222" stroke-width="0.19" textLength="7.5" lengthAdjust="spacingAndGlyphs">35</text>
<text x="380.1" y="602.65" font-family="Liberation Sans, Arial, sans-serif" font-size="10.2" fill="#222" stroke="#222" stroke-width="0.19" textLength="7.5" lengthAdjust="spacingAndGlyphs">40</text>
<text x="506.25" y="628.3" font-family="Liberation Sans, Arial, sans-serif" font-size="9.3" fill="#222" stroke="#222" stroke-width="0.19" textLength="50" lengthAdjust="spacingAndGlyphs">Time [hh:mm.ss]</text>
<text transform="translate(377.1 478) rotate(-90)" x="-25.6" y="0" font-family="Liberation Sans, Arial, sans-serif" font-size="7.6" fill="#222" stroke="#222" stroke-width="0.3" textLength="51.2" lengthAdjust="spacingAndGlyphs">Depth [mm]</text>
</g>
<g id="chart-e" class="ax">
<path d="M239.5 694.5V894.9M283.5 694.5V894.9M327.5 694.5V894.9M371.5 694.5V894.9M414.5 694.5V894.9M458.5 694.5V894.9M198.75 722.5H483.9M198.75 746.5H483.9M198.75 770.5H483.9M198.75 794.5H483.9M198.75 818.5H483.9M198.75 842.5H483.9M198.75 866.5H483.9" stroke="#dedede" stroke-width="1" fill="none"/>
<path d="M199.75 717.5H482.5" stroke="#3c3cf0" stroke-width="1.0" fill="none"/>
<path d="M199.75 867H482.5" stroke="#3c3cf0" stroke-width="1" fill="none"/>
<path d="M413.5 698.45V890.85" stroke="#ad4444" stroke-width="1.0" fill="none"/>
<path d="M478.5 698.45V890.85" stroke="#ad4444" stroke-width="1.0" fill="none"/>
<polyline points="199,887.54 200.86,887.29 202.73,887.21 204.59,887.36 206.45,887.61 208.32,887.56 210.18,887.28 212.05,887.22 213.91,887.61 215.77,887.44 217.64,887.5 219.5,887.19 221.36,887.18 223.23,887.49 225.09,887.36 226.95,887.19 228.82,887.62 230.68,887.47 232.55,887.55 234.41,887.19 236.27,887.58 238.14,887.18 240,887.58 241.9,887.37 243.81,887.31 245.71,887.41 247.62,887.59 249.52,887.26 251.43,887.19 253.33,887.38 255.24,887.23 257.14,887.16 259.05,887.18 260.95,887.12 262.86,887.19 264.76,887.24 266.67,887.24 268.57,887.46 270.48,887.22 272.38,887.32 274.29,887.15 276.19,887.23 278.1,887.06 280,887.18 281.82,887.04 283.64,887.38 285.45,887.27 287.27,887.07 289.09,887.2 290.91,887.41 292.73,886.98 294.55,887.31 296.36,887.1 298.18,887.12 300,887.27 302,886.75 304,886.5 306,886.94 308,887.44 309.83,887.1 311.67,887.32 313.5,887.23 315.33,887.17 317.17,887.03 319,886.97 320.83,886.8 322.67,886.81 324.5,886.76 326.33,887.07 328.17,886.8 330,886.9 332,886.57 333.8,886.4 335.6,886.57 337.4,886.45 339.27,886.62 341.15,886.71 343.02,886.95 344.9,887.22 346.88,887.32 348.86,887.24 350.84,887.4 352.82,887.37 354.8,887.68 356.78,887.55 358.76,887.24 360.74,886.98 362.72,887.13 364.7,886.72 366.7,886.5 368.7,886.12 370.7,886.03 372.7,885.83 374.7,885.6 376.55,885.28 378.4,885.2 380.25,884.8 382.1,884.71 383.98,884.51 385.85,884.51 387.73,884.24 389.6,884.3 392,882.3 393.5,883 395,883.6 397.5,884.3 399,882.5 400.7,880.6 402.2,878 403.7,875.6 405,873.6 406.2,871.9 408.9,866.2 410.9,871.4 413.6,856.5 415.6,853.3 417.4,845.8 419.4,820.3 421.3,829.2 423.3,816.1 425.3,797.5 426.8,795.5 428.9,799.6 430.9,789.3 433,779.1 434.8,786.3 436.8,771.4 438.9,773.4 440.7,763.4 442.8,778.5 444.4,779.5 446.7,766.5 448.5,768.5 450.1,751.9 452.6,756.6 454.4,743.4 456.1,720.9 457.9,739.3 459.9,732.7 461.8,726.6 463.6,734.8 465.5,726.6 467.5,723.9 469.3,712.3 471.4,708.2 473.4,729.7 475.3,727.6 477.1,718.4 478.7,698.8 480.6,698.4 482.6,698.8" stroke="#2d9c2d" stroke-width="0.75" fill="none" stroke-linejoin="round"/>
<path d="M198.05 887.54a0.95 1.5 0 1 0 1.9 0a0.95 1.5 0 1 0 -1.9 0M199.91 887.29a0.95 1.5 0 1 0 1.9 0a0.95 1.5 0 1 0 -1.9 0M201.78 887.21a0.95 1.5 0 1 0 1.9 0a0.95 1.5 0 1 0 -1.9 0M203.64 887.36a0.95 1.5 0 1 0 1.9 0a0.95 1.5 0 1 0 -1.9 0M205.5 887.61a0.95 1.5 0 1 0 1.9 0a0.95 1.5 0 1 0 -1.9 0M207.37 887.56a0.95 1.5 0 1 0 1.9 0a0.95 1.5 0 1 0 -1.9 0M209.23 887.28a0.95 1.5 0 1 0 1.9 0a0.95 1.5 0 1 0 -1.9 0M211.1 887.22a0.95 1.5 0 1 0 1.9 0a0.95 1.5 0 1 0 -1.9 0M212.96 887.61a0.95 1.5 0 1 0 1.9 0a0.95 1.5 0 1 0 -1.9 0M214.82 887.44a0.95 1.5 0 1 0 1.9 0a0.95 1.5 0 1 0 -1.9 0M216.69 887.5a0.95 1.5 0 1 0 1.9 0a0.95 1.5 0 1 0 -1.9 0M218.55 887.19a0.95 1.5 0 1 0 1.9 0a0.95 1.5 0 1 0 -1.9 0M220.41 887.18a0.95 1.5 0 1 0 1.9 0a0.95 1.5 0 1 0 -1.9 0M222.28 887.49a0.95 1.5 0 1 0 1.9 0a0.95 1.5 0 1 0 -1.9 0M224.14 887.36a0.95 1.5 0 1 0 1.9 0a0.95 1.5 0 1 0 -1.9 0M226 887.19a0.95 1.5 0 1 0 1.9 0a0.95 1.5 0 1 0 -1.9 0M227.87 887.62a0.95 1.5 0 1 0 1.9 0a0.95 1.5 0 1 0 -1.9 0M229.73 887.47a0.95 1.5 0 1 0 1.9 0a0.95 1.5 0 1 0 -1.9 0M231.6 887.55a0.95 1.5 0 1 0 1.9 0a0.95 1.5 0 1 0 -1.9 0M233.46 887.19a0.95 1.5 0 1 0 1.9 0a0.95 1.5 0 1 0 -1.9 0M235.32 887.58a0.95 1.5 0 1 0 1.9 0a0.95 1.5 0 1 0 -1.9 0M237.19 887.18a0.95 1.5 0 1 0 1.9 0a0.95 1.5 0 1 0 -1.9 0M239.05 887.58a0.95 1.5 0 1 0 1.9 0a0.95 1.5 0 1 0 -1.9 0M240.95 887.37a0.95 1.5 0 1 0 1.9 0a0.95 1.5 0 1 0 -1.9 0M242.86 887.31a0.95 1.5 0 1 0 1.9 0a0.95 1.5 0 1 0 -1.9 0M244.76 887.41a0.95 1.5 0 1 0 1.9 0a0.95 1.5 0 1 0 -1.9 0M246.67 887.59a0.95 1.5 0 1 0 1.9 0a0.95 1.5 0 1 0 -1.9 0M248.57 887.26a0.95 1.5 0 1 0 1.9 0a0.95 1.5 0 1 0 -1.9 0M250.48 887.19a0.95 1.5 0 1 0 1.9 0a0.95 1.5 0 1 0 -1.9 0M252.38 887.38a0.95 1.5 0 1 0 1.9 0a0.95 1.5 0 1 0 -1.9 0M254.29 887.23a0.95 1.5 0 1 0 1.9 0a0.95 1.5 0 1 0 -1.9 0M256.19 887.16a0.95 1.5 0 1 0 1.9 0a0.95 1.5 0 1 0 -1.9 0M258.1 887.18a0.95 1.5 0 1 0 1.9 0a0.95 1.5 0 1 0 -1.9 0M260 887.12a0.95 1.5 0 1 0 1.9 0a0.95 1.5 0 1 0 -1.9 0M261.91 887.19a0.95 1.5 0 1 0 1.9 0a0.95 1.5 0 1 0 -1.9 0M263.81 887.24a0.95 1.5 0 1 0 1.9 0a0.95 1.5 0 1 0 -1.9 0M265.72 887.24a0.95 1.5 0 1 0 1.9 0a0.95 1.5 0 1 0 -1.9 0M267.62 887.46a0.95 1.5 0 1 0 1.9 0a0.95 1.5 0 1 0 -1.9 0M269.53 887.22a0.95 1.5 0 1 0 1.9 0a0.95 1.5 0 1 0 -1.9 0M271.43 887.32a0.95 1.5 0 1 0 1.9 0a0.95 1.5 0 1 0 -1.9 0M273.34 887.15a0.95 1.5 0 1 0 1.9 0a0.95 1.5 0 1 0 -1.9 0M275.24 887.23a0.95 1.5 0 1 0 1.9 0a0.95 1.5 0 1 0 -1.9 0M277.15 887.06a0.95 1.5 0 1 0 1.9 0a0.95 1.5 0 1 0 -1.9 0M279.05 887.18a0.95 1.5 0 1 0 1.9 0a0.95 1.5 0 1 0 -1.9 0M280.87 887.04a0.95 1.5 0 1 0 1.9 0a0.95 1.5 0 1 0 -1.9 0M282.69 887.38a0.95 1.5 0 1 0 1.9 0a0.95 1.5 0 1 0 -1.9 0M284.5 887.27a0.95 1.5 0 1 0 1.9 0a0.95 1.5 0 1 0 -1.9 0M286.32 887.07a0.95 1.5 0 1 0 1.9 0a0.95 1.5 0 1 0 -1.9 0M288.14 887.2a0.95 1.5 0 1 0 1.9 0a0.95 1.5 0 1 0 -1.9 0M289.96 887.41a0.95 1.5 0 1 0 1.9 0a0.95 1.5 0 1 0 -1.9 0M291.78 886.98a0.95 1.5 0 1 0 1.9 0a0.95 1.5 0 1 0 -1.9 0M293.6 887.31a0.95 1.5 0 1 0 1.9 0a0.95 1.5 0 1 0 -1.9 0M295.41 887.1a0.95 1.5 0 1 0 1.9 0a0.95 1.5 0 1 0 -1.9 0M297.23 887.12a0.95 1.5 0 1 0 1.9 0a0.95 1.5 0 1 0 -1.9 0M299.05 887.27a0.95 1.5 0 1 0 1.9 0a0.95 1.5 0 1 0 -1.9 0M301.05 886.75a0.95 1.5 0 1 0 1.9 0a0.95 1.5 0 1 0 -1.9 0M303.05 886.5a0.95 1.5 0 1 0 1.9 0a0.95 1.5 0 1 0 -1.9 0M305.05 886.94a0.95 1.5 0 1 0 1.9 0a0.95 1.5 0 1 0 -1.9 0M307.05 887.44a0.95 1.5 0 1 0 1.9 0a0.95 1.5 0 1 0 -1.9 0M308.88 887.1a0.95 1.5 0 1 0 1.9 0a0.95 1.5 0 1 0 -1.9 0M310.72 887.32a0.95 1.5 0 1 0 1.9 0a0.95 1.5 0 1 0 -1.9 0M312.55 887.23a0.95 1.5 0 1 0 1.9 0a0.95 1.5 0 1 0 -1.9 0M314.38 887.17a0.95 1.5 0 1 0 1.9 0a0.95 1.5 0 1 0 -1.9 0M316.22 887.03a0.95 1.5 0 1 0 1.9 0a0.95 1.5 0 1 0 -1.9 0M318.05 886.97a0.95 1.5 0 1 0 1.9 0a0.95 1.5 0 1 0 -1.9 0M319.88 886.8a0.95 1.5 0 1 0 1.9 0a0.95 1.5 0 1 0 -1.9 0M321.72 886.81a0.95 1.5 0 1 0 1.9 0a0.95 1.5 0 1 0 -1.9 0M323.55 886.76a0.95 1.5 0 1 0 1.9 0a0.95 1.5 0 1 0 -1.9 0M325.38 887.07a0.95 1.5 0 1 0 1.9 0a0.95 1.5 0 1 0 -1.9 0M327.22 886.8a0.95 1.5 0 1 0 1.9 0a0.95 1.5 0 1 0 -1.9 0M329.05 886.9a0.95 1.5 0 1 0 1.9 0a0.95 1.5 0 1 0 -1.9 0M331.05 886.57a0.95 1.5 0 1 0 1.9 0a0.95 1.5 0 1 0 -1.9 0M332.85 886.4a0.95 1.5 0 1 0 1.9 0a0.95 1.5 0 1 0 -1.9 0M334.65 886.57a0.95 1.5 0 1 0 1.9 0a0.95 1.5 0 1 0 -1.9 0M336.45 886.45a0.95 1.5 0 1 0 1.9 0a0.95 1.5 0 1 0 -1.9 0M338.32 886.62a0.95 1.5 0 1 0 1.9 0a0.95 1.5 0 1 0 -1.9 0M340.2 886.71a0.95 1.5 0 1 0 1.9 0a0.95 1.5 0 1 0 -1.9 0M342.07 886.95a0.95 1.5 0 1 0 1.9 0a0.95 1.5 0 1 0 -1.9 0M343.95 887.22a0.95 1.5 0 1 0 1.9 0a0.95 1.5 0 1 0 -1.9 0M345.93 887.32a0.95 1.5 0 1 0 1.9 0a0.95 1.5 0 1 0 -1.9 0M347.91 887.24a0.95 1.5 0 1 0 1.9 0a0.95 1.5 0 1 0 -1.9 0M349.89 887.4a0.95 1.5 0 1 0 1.9 0a0.95 1.5 0 1 0 -1.9 0M351.87 887.37a0.95 1.5 0 1 0 1.9 0a0.95 1.5 0 1 0 -1.9 0M353.85 887.68a0.95 1.5 0 1 0 1.9 0a0.95 1.5 0 1 0 -1.9 0M355.83 887.55a0.95 1.5 0 1 0 1.9 0a0.95 1.5 0 1 0 -1.9 0M357.81 887.24a0.95 1.5 0 1 0 1.9 0a0.95 1.5 0 1 0 -1.9 0M359.79 886.98a0.95 1.5 0 1 0 1.9 0a0.95 1.5 0 1 0 -1.9 0M361.77 887.13a0.95 1.5 0 1 0 1.9 0a0.95 1.5 0 1 0 -1.9 0M363.75 886.72a0.95 1.5 0 1 0 1.9 0a0.95 1.5 0 1 0 -1.9 0M365.75 886.5a0.95 1.5 0 1 0 1.9 0a0.95 1.5 0 1 0 -1.9 0M367.75 886.12a0.95 1.5 0 1 0 1.9 0a0.95 1.5 0 1 0 -1.9 0M369.75 886.03a0.95 1.5 0 1 0 1.9 0a0.95 1.5 0 1 0 -1.9 0M371.75 885.83a0.95 1.5 0 1 0 1.9 0a0.95 1.5 0 1 0 -1.9 0M373.75 885.6a0.95 1.5 0 1 0 1.9 0a0.95 1.5 0 1 0 -1.9 0M375.6 885.28a0.95 1.5 0 1 0 1.9 0a0.95 1.5 0 1 0 -1.9 0M377.45 885.2a0.95 1.5 0 1 0 1.9 0a0.95 1.5 0 1 0 -1.9 0M379.3 884.8a0.95 1.5 0 1 0 1.9 0a0.95 1.5 0 1 0 -1.9 0M381.15 884.71a0.95 1.5 0 1 0 1.9 0a0.95 1.5 0 1 0 -1.9 0M383.03 884.51a0.95 1.5 0 1 0 1.9 0a0.95 1.5 0 1 0 -1.9 0M384.9 884.51a0.95 1.5 0 1 0 1.9 0a0.95 1.5 0 1 0 -1.9 0M386.78 884.24a0.95 1.5 0 1 0 1.9 0a0.95 1.5 0 1 0 -1.9 0M388.65 884.3a0.95 1.5 0 1 0 1.9 0a0.95 1.5 0 1 0 -1.9 0M391.05 882.3a0.95 1.5 0 1 0 1.9 0a0.95 1.5 0 1 0 -1.9 0M392.55 883a0.95 1.5 0 1 0 1.9 0a0.95 1.5 0 1 0 -1.9 0M394.05 883.6a0.95 1.5 0 1 0 1.9 0a0.95 1.5 0 1 0 -1.9 0M396.55 884.3a0.95 1.5 0 1 0 1.9 0a0.95 1.5 0 1 0 -1.9 0M398.05 882.5a0.95 1.5 0 1 0 1.9 0a0.95 1.5 0 1 0 -1.9 0M399.75 880.6a0.95 1.5 0 1 0 1.9 0a0.95 1.5 0 1 0 -1.9 0M401.25 878a0.95 1.5 0 1 0 1.9 0a0.95 1.5 0 1 0 -1.9 0M402.75 875.6a0.95 1.5 0 1 0 1.9 0a0.95 1.5 0 1 0 -1.9 0M404.05 873.6a0.95 1.5 0 1 0 1.9 0a0.95 1.5 0 1 0 -1.9 0M405.25 871.9a0.95 1.5 0 1 0 1.9 0a0.95 1.5 0 1 0 -1.9 0M407.95 866.2a0.95 1.5 0 1 0 1.9 0a0.95 1.5 0 1 0 -1.9 0M409.95 871.4a0.95 1.5 0 1 0 1.9 0a0.95 1.5 0 1 0 -1.9 0M412.65 856.5a0.95 1.5 0 1 0 1.9 0a0.95 1.5 0 1 0 -1.9 0M414.65 853.3a0.95 1.5 0 1 0 1.9 0a0.95 1.5 0 1 0 -1.9 0M416.45 845.8a0.95 1.5 0 1 0 1.9 0a0.95 1.5 0 1 0 -1.9 0M418.45 820.3a0.95 1.5 0 1 0 1.9 0a0.95 1.5 0 1 0 -1.9 0M420.35 829.2a0.95 1.5 0 1 0 1.9 0a0.95 1.5 0 1 0 -1.9 0M422.35 816.1a0.95 1.5 0 1 0 1.9 0a0.95 1.5 0 1 0 -1.9 0M424.35 797.5a0.95 1.5 0 1 0 1.9 0a0.95 1.5 0 1 0 -1.9 0M425.85 795.5a0.95 1.5 0 1 0 1.9 0a0.95 1.5 0 1 0 -1.9 0M427.95 799.6a0.95 1.5 0 1 0 1.9 0a0.95 1.5 0 1 0 -1.9 0M429.95 789.3a0.95 1.5 0 1 0 1.9 0a0.95 1.5 0 1 0 -1.9 0M432.05 779.1a0.95 1.5 0 1 0 1.9 0a0.95 1.5 0 1 0 -1.9 0M433.85 786.3a0.95 1.5 0 1 0 1.9 0a0.95 1.5 0 1 0 -1.9 0M435.85 771.4a0.95 1.5 0 1 0 1.9 0a0.95 1.5 0 1 0 -1.9 0M437.95 773.4a0.95 1.5 0 1 0 1.9 0a0.95 1.5 0 1 0 -1.9 0M439.75 763.4a0.95 1.5 0 1 0 1.9 0a0.95 1.5 0 1 0 -1.9 0M441.85 778.5a0.95 1.5 0 1 0 1.9 0a0.95 1.5 0 1 0 -1.9 0M443.45 779.5a0.95 1.5 0 1 0 1.9 0a0.95 1.5 0 1 0 -1.9 0M445.75 766.5a0.95 1.5 0 1 0 1.9 0a0.95 1.5 0 1 0 -1.9 0M447.55 768.5a0.95 1.5 0 1 0 1.9 0a0.95 1.5 0 1 0 -1.9 0M449.15 751.9a0.95 1.5 0 1 0 1.9 0a0.95 1.5 0 1 0 -1.9 0M451.65 756.6a0.95 1.5 0 1 0 1.9 0a0.95 1.5 0 1 0 -1.9 0M453.45 743.4a0.95 1.5 0 1 0 1.9 0a0.95 1.5 0 1 0 -1.9 0M455.15 720.9a0.95 1.5 0 1 0 1.9 0a0.95 1.5 0 1 0 -1.9 0M456.95 739.3a0.95 1.5 0 1 0 1.9 0a0.95 1.5 0 1 0 -1.9 0M458.95 732.7a0.95 1.5 0 1 0 1.9 0a0.95 1.5 0 1 0 -1.9 0M460.85 726.6a0.95 1.5 0 1 0 1.9 0a0.95 1.5 0 1 0 -1.9 0M462.65 734.8a0.95 1.5 0 1 0 1.9 0a0.95 1.5 0 1 0 -1.9 0M464.55 726.6a0.95 1.5 0 1 0 1.9 0a0.95 1.5 0 1 0 -1.9 0M466.55 723.9a0.95 1.5 0 1 0 1.9 0a0.95 1.5 0 1 0 -1.9 0M468.35 712.3a0.95 1.5 0 1 0 1.9 0a0.95 1.5 0 1 0 -1.9 0M470.45 708.2a0.95 1.5 0 1 0 1.9 0a0.95 1.5 0 1 0 -1.9 0M472.45 729.7a0.95 1.5 0 1 0 1.9 0a0.95 1.5 0 1 0 -1.9 0M474.35 727.6a0.95 1.5 0 1 0 1.9 0a0.95 1.5 0 1 0 -1.9 0M476.15 718.4a0.95 1.5 0 1 0 1.9 0a0.95 1.5 0 1 0 -1.9 0M477.75 698.8a0.95 1.5 0 1 0 1.9 0a0.95 1.5 0 1 0 -1.9 0M479.65 698.4a0.95 1.5 0 1 0 1.9 0a0.95 1.5 0 1 0 -1.9 0M481.65 698.8a0.95 1.5 0 1 0 1.9 0a0.95 1.5 0 1 0 -1.9 0" fill="#0c260c"/>
<path d="M198.75 694.5H483.9V894.9" stroke="#484848" stroke-width="1.1" fill="none"/>
<path d="M198.75 694V895.5" stroke="#1c1c1c" stroke-width="1.35" fill="none"/>
<path d="M198.15 894.9H484.4" stroke="#1c1c1c" stroke-width="1.35" fill="none"/>
<path d="M196.75 698.45H198.75M196.75 722.5H198.75M196.75 746.55H198.75M196.75 770.6H198.75M196.75 794.65H198.75M196.75 818.7H198.75M196.75 842.75H198.75M196.75 866.8H198.75M196.75 890.85H198.75M197.25 703.26H198.75M197.25 708.07H198.75M197.25 712.88H198.75M197.25 717.69H198.75M197.25 727.31H198.75M197.25 732.12H198.75M197.25 736.93H198.75M197.25 741.74H198.75M197.25 751.36H198.75M197.25 756.17H198.75M197.25 760.98H198.75M197.25 765.79H198.75M197.25 775.41H198.75M197.25 780.22H198.75M197.25 785.03H198.75M197.25 789.84H198.75M197.25 799.46H198.75M197.25 804.27H198.75M197.25 809.08H198.75M197.25 813.89H198.75M197.25 823.51H198.75M197.25 828.32H198.75M197.25 833.13H198.75M197.25 837.94H198.75M197.25 847.56H198.75M197.25 852.37H198.75M197.25 857.18H198.75M197.25 861.99H198.75M197.25 871.61H198.75M197.25 876.42H198.75M197.25 881.23H198.75M197.25 886.04H198.75M239.5 894.9V897.9M283.37 894.9V897.9M327.24 894.9V897.9M371.11 894.9V897.9M414.98 894.9V897.9M458.85 894.9V897.9M210.25 894.9V896.4M224.88 894.9V896.4M254.12 894.9V896.4M268.75 894.9V896.4M297.99 894.9V896.4M312.62 894.9V896.4M341.86 894.9V896.4M356.49 894.9V896.4M385.73 894.9V896.4M400.36 894.9V896.4M429.6 894.9V896.4M444.23 894.9V896.4M473.47 894.9V896.4" stroke="#6e6e6e" stroke-width="0.8" fill="none"/>
<text x="225.5" y="906" font-family="Liberation Sans, Arial, sans-serif" font-size="8" fill="#222" stroke="#222" stroke-width="0.15" textLength="28" lengthAdjust="spacingAndGlyphs">02:00.00</text>
<text x="269.37" y="906" font-family="Liberation Sans, Arial, sans-serif" font-size="8" fill="#222" stroke="#222" stroke-width="0.15" textLength="28" lengthAdjust="spacingAndGlyphs">04:00.00</text>
<text x="313.24" y="906" font-family="Liberation Sans, Arial, sans-serif" font-size="8" fill="#222" stroke="#222" stroke-width="0.15" textLength="28" lengthAdjust="spacingAndGlyphs">06:00.00</text>
<text x="357.11" y="906" font-family="Liberation Sans, Arial, sans-serif" font-size="8" fill="#222" stroke="#222" stroke-width="0.15" textLength="28" lengthAdjust="spacingAndGlyphs">08:00.00</text>
<text x="400.98" y="906" font-family="Liberation Sans, Arial, sans-serif" font-size="8" fill="#222" stroke="#222" stroke-width="0.15" textLength="28" lengthAdjust="spacingAndGlyphs">10:00.00</text>
<text x="444.85" y="906" font-family="Liberation Sans, Arial, sans-serif" font-size="8" fill="#222" stroke="#222" stroke-width="0.15" textLength="28" lengthAdjust="spacingAndGlyphs">12:00.00</text>
<text x="191.45" y="701.71" font-family="Liberation Sans, Arial, sans-serif" font-size="8" fill="#222" stroke="#222" stroke-width="0.15" textLength="3.75" lengthAdjust="spacingAndGlyphs">0</text>
<text x="191.45" y="725.76" font-family="Liberation Sans, Arial, sans-serif" font-size="8" fill="#222" stroke="#222" stroke-width="0.15" textLength="3.75" lengthAdjust="spacingAndGlyphs">5</text>
<text x="187.7" y="749.81" font-family="Liberation Sans, Arial, sans-serif" font-size="8" fill="#222" stroke="#222" stroke-width="0.15" textLength="7.5" lengthAdjust="spacingAndGlyphs">10</text>
<text x="187.7" y="773.86" font-family="Liberation Sans, Arial, sans-serif" font-size="8" fill="#222" stroke="#222" stroke-width="0.15" textLength="7.5" lengthAdjust="spacingAndGlyphs">15</text>
<text x="187.7" y="797.91" font-family="Liberation Sans, Arial, sans-serif" font-size="8" fill="#222" stroke="#222" stroke-width="0.15" textLength="7.5" lengthAdjust="spacingAndGlyphs">20</text>
<text x="187.7" y="821.96" font-family="Liberation Sans, Arial, sans-serif" font-size="8" fill="#222" stroke="#222" stroke-width="0.15" textLength="7.5" lengthAdjust="spacingAndGlyphs">25</text>
<text x="187.7" y="846.01" font-family="Liberation Sans, Arial, sans-serif" font-size="8" fill="#222" stroke="#222" stroke-width="0.15" textLength="7.5" lengthAdjust="spacingAndGlyphs">30</text>
<text x="187.7" y="870.06" font-family="Liberation Sans, Arial, sans-serif" font-size="8" fill="#222" stroke="#222" stroke-width="0.15" textLength="7.5" lengthAdjust="spacingAndGlyphs">35</text>
<text x="187.7" y="894.11" font-family="Liberation Sans, Arial, sans-serif" font-size="8" fill="#222" stroke="#222" stroke-width="0.15" textLength="7.5" lengthAdjust="spacingAndGlyphs">40</text>
<text x="316.32" y="915.3" font-family="Liberation Sans, Arial, sans-serif" font-size="7.4" fill="#222" stroke="#222" stroke-width="0.15" textLength="50" lengthAdjust="spacingAndGlyphs">Time [hh:mm.ss]</text>
<text transform="translate(184 794.7) rotate(-90)" x="-23" y="0" font-family="Liberation Sans, Arial, sans-serif" font-size="7" fill="#222" stroke="#222" stroke-width="0.3" textLength="46" lengthAdjust="spacingAndGlyphs">Depth [mm]</text>
</g>
<g>
<text x="25.6" y="304.3" font-family="Liberation Serif, Times New Roman, serif" font-size="14.2" fill="#111" stroke="#111" stroke-width="0.22" xml:space="preserve">IST:</text>
<text x="58.9" y="304.3" font-family="Liberation Serif, Times New Roman, serif" font-size="14.2" fill="#111" stroke="#111" stroke-width="0.22" font-weight="bold" xml:space="preserve">299:59</text>
<text x="103.9" y="304.3" font-family="Liberation Serif, Times New Roman, serif" font-size="14.2" fill="#111" stroke="#111" stroke-width="0.22" font-weight="bold" xml:space="preserve">[</text>
<text x="109.7" y="304.3" font-family="Liberation Serif, Times New Roman, serif" font-size="14.2" fill="#111" stroke="#111" stroke-width="0.22" xml:space="preserve">min:sec]</text>
<text x="167.2" y="304.3" font-family="Liberation Serif, Times New Roman, serif" font-size="14.2" fill="#111" stroke="#111" stroke-width="0.22" xml:space="preserve">FST:</text>
<text x="203.9" y="304.3" font-family="Liberation Serif, Times New Roman, serif" font-size="14.2" fill="#111" stroke="#111" stroke-width="0.22" font-weight="bold" xml:space="preserve">450:38</text>
<text x="248.7" y="304.3" font-family="Liberation Serif, Times New Roman, serif" font-size="14.2" fill="#111" stroke="#111" stroke-width="0.22" font-weight="bold" xml:space="preserve">[</text>
<text x="254.5" y="304.3" font-family="Liberation Serif, Times New Roman, serif" font-size="14.2" fill="#111" stroke="#111" stroke-width="0.22" xml:space="preserve">min:sec]</text>
<text x="105.5" y="320.6" font-family="Liberation Serif, Times New Roman, serif" font-size="14.65" fill="#111" stroke="#111" stroke-width="0.22" font-weight="bold" xml:space="preserve">a</text>
<text x="126.1" y="320.6" font-family="Liberation Serif, Times New Roman, serif" font-size="14.65" fill="#111" stroke="#111" stroke-width="0.22" textLength="37.6" lengthAdjust="spacing" xml:space="preserve">CEM1</text>
<text x="386.7" y="290.6" font-family="Liberation Serif, Times New Roman, serif" font-size="14.2" fill="#111" stroke="#111" stroke-width="0.22" xml:space="preserve">IST:</text>
<text x="420" y="290.6" font-family="Liberation Serif, Times New Roman, serif" font-size="14.2" fill="#111" stroke="#111" stroke-width="0.22" font-weight="bold" xml:space="preserve">616:19</text>
<text x="464.5" y="290.6" font-family="Liberation Serif, Times New Roman, serif" font-size="14.2" fill="#111" stroke="#111" stroke-width="0.22" font-weight="bold" xml:space="preserve">[</text>
<text x="470.3" y="290.6" font-family="Liberation Serif, Times New Roman, serif" font-size="14.2" fill="#111" stroke="#111" stroke-width="0.22" xml:space="preserve">min:sec]</text>
<text x="528.3" y="290.6" font-family="Liberation Serif, Times New Roman, serif" font-size="14.2" fill="#111" stroke="#111" stroke-width="0.22" xml:space="preserve">FST:</text>
<text x="561.1" y="290.6" font-family="Liberation Serif, Times New Roman, serif" font-size="14.2" fill="#111" stroke="#111" stroke-width="0.22" font-weight="bold" xml:space="preserve">835:37</text>
<text x="606.1" y="290.6" font-family="Liberation Serif, Times New Roman, serif" font-size="14.2" fill="#111" stroke="#111" stroke-width="0.22" font-weight="bold" xml:space="preserve">[</text>
<text x="611.9" y="290.6" font-family="Liberation Serif, Times New Roman, serif" font-size="14.2" fill="#111" stroke="#111" stroke-width="0.22" xml:space="preserve">min:sec]</text>
<text x="463.8" y="306.8" font-family="Liberation Serif, Times New Roman, serif" font-size="14.65" fill="#111" stroke="#111" stroke-width="0.22" font-weight="bold" xml:space="preserve">b</text>
<text x="478.5" y="306.8" font-family="Liberation Serif, Times New Roman, serif" font-size="14.65" fill="#111" stroke="#111" stroke-width="0.22" textLength="99.5" lengthAdjust="spacing" xml:space="preserve">90CEM1+10WA</text>
<text x="29.8" y="615.4" font-family="Liberation Serif, Times New Roman, serif" font-size="14.2" fill="#111" stroke="#111" stroke-width="0.22" xml:space="preserve">IST:</text>
<text x="55.6" y="615.4" font-family="Liberation Serif, Times New Roman, serif" font-size="14.2" fill="#111" stroke="#111" stroke-width="0.22" font-weight="bold" xml:space="preserve">617:30</text>
<text x="100.2" y="615.4" font-family="Liberation Serif, Times New Roman, serif" font-size="14.2" fill="#111" stroke="#111" stroke-width="0.22" font-weight="bold" xml:space="preserve">[</text>
<text x="106" y="615.4" font-family="Liberation Serif, Times New Roman, serif" font-size="14.2" fill="#111" stroke="#111" stroke-width="0.22" xml:space="preserve">min:sec]</text>
<text x="167.2" y="615.4" font-family="Liberation Serif, Times New Roman, serif" font-size="14.2" fill="#111" stroke="#111" stroke-width="0.22" xml:space="preserve">FST:</text>
<text x="204.4" y="615.4" font-family="Liberation Serif, Times New Roman, serif" font-size="14.2" fill="#111" stroke="#111" stroke-width="0.22" font-weight="bold" xml:space="preserve">799:40</text>
<text x="248.9" y="615.4" font-family="Liberation Serif, Times New Roman, serif" font-size="14.2" fill="#111" stroke="#111" stroke-width="0.22" font-weight="bold" xml:space="preserve">[</text>
<text x="254.7" y="615.4" font-family="Liberation Serif, Times New Roman, serif" font-size="14.2" fill="#111" stroke="#111" stroke-width="0.22" xml:space="preserve">min:sec]</text>
<text x="110.4" y="632.2" font-family="Liberation Serif, Times New Roman, serif" font-size="14.65" fill="#111" stroke="#111" stroke-width="0.22" font-weight="bold" xml:space="preserve">c</text>
<text x="123.5" y="632.2" font-family="Liberation Serif, Times New Roman, serif" font-size="14.65" fill="#111" stroke="#111" stroke-width="0.22" xml:space="preserve">90</text>
<text x="141.9" y="632.2" font-family="Liberation Serif, Times New Roman, serif" font-size="14.65" fill="#111" stroke="#111" stroke-width="0.22" textLength="119.8" lengthAdjust="spacing" xml:space="preserve">CEM1+10WA+1NT</text>
<text x="386.7" y="654.7" font-family="Liberation Serif, Times New Roman, serif" font-size="14.2" fill="#111" stroke="#111" stroke-width="0.22" xml:space="preserve">IST:</text>
<text x="416.7" y="654.7" font-family="Liberation Serif, Times New Roman, serif" font-size="14.2" fill="#111" stroke="#111" stroke-width="0.22" font-weight="bold" xml:space="preserve">163:12</text>
<text x="461.3" y="654.7" font-family="Liberation Serif, Times New Roman, serif" font-size="14.2" fill="#111" stroke="#111" stroke-width="0.22" font-weight="bold" xml:space="preserve">[</text>
<text x="467.1" y="654.7" font-family="Liberation Serif, Times New Roman, serif" font-size="14.2" fill="#111" stroke="#111" stroke-width="0.22" xml:space="preserve">min:sec]</text>
<text x="528.3" y="654.7" font-family="Liberation Serif, Times New Roman, serif" font-size="14.2" fill="#111" stroke="#111" stroke-width="0.22" xml:space="preserve">FST:</text>
<text x="561.1" y="654.7" font-family="Liberation Serif, Times New Roman, serif" font-size="14.2" fill="#111" stroke="#111" stroke-width="0.22" font-weight="bold" xml:space="preserve">768:15</text>
<text x="606.1" y="654.7" font-family="Liberation Serif, Times New Roman, serif" font-size="14.2" fill="#111" stroke="#111" stroke-width="0.22" font-weight="bold" xml:space="preserve">[</text>
<text x="611.9" y="654.7" font-family="Liberation Serif, Times New Roman, serif" font-size="14.2" fill="#111" stroke="#111" stroke-width="0.22" xml:space="preserve">min:sec]</text>
<text x="410.2" y="671.1" font-family="Liberation Serif, Times New Roman, serif" font-size="14.65" fill="#111" stroke="#111" stroke-width="0.22" font-weight="bold" xml:space="preserve">d</text>
<text x="425.5" y="671.1" font-family="Liberation Serif, Times New Roman, serif" font-size="14.65" fill="#111" stroke="#111" stroke-width="0.22" xml:space="preserve">90</text>
<text x="444.1" y="671.1" font-family="Liberation Serif, Times New Roman, serif" font-size="14.65" fill="#111" stroke="#111" stroke-width="0.22" textLength="119.2" lengthAdjust="spacing" xml:space="preserve">CEM1+10WA+2NT</text>
<text x="197.6" y="952.4" font-family="Liberation Serif, Times New Roman, serif" font-size="14.2" fill="#111" stroke="#111" stroke-width="0.22" xml:space="preserve">IST:</text>
<text x="227.2" y="952.4" font-family="Liberation Serif, Times New Roman, serif" font-size="14.2" fill="#111" stroke="#111" stroke-width="0.22" font-weight="bold" xml:space="preserve">594:31</text>
<text x="272.6" y="952.4" font-family="Liberation Serif, Times New Roman, serif" font-size="14.2" fill="#111" stroke="#111" stroke-width="0.22" xml:space="preserve">[min:sec]</text>
<text x="335" y="952.4" font-family="Liberation Serif, Times New Roman, serif" font-size="14.2" fill="#111" stroke="#111" stroke-width="0.22" xml:space="preserve">FST:</text>
<text x="364.5" y="952.4" font-family="Liberation Serif, Times New Roman, serif" font-size="14.2" fill="#111" stroke="#111" stroke-width="0.22" font-weight="bold" xml:space="preserve">773:51</text>
<text x="409.5" y="952.4" font-family="Liberation Serif, Times New Roman, serif" font-size="14.2" fill="#111" stroke="#111" stroke-width="0.22" font-weight="bold" xml:space="preserve">[</text>
<text x="415.3" y="952.4" font-family="Liberation Serif, Times New Roman, serif" font-size="14.2" fill="#111" stroke="#111" stroke-width="0.22" xml:space="preserve">min:sec]</text>
<text x="257.4" y="982.2" font-family="Liberation Serif, Times New Roman, serif" font-size="14.65" fill="#111" stroke="#111" stroke-width="0.22" font-weight="bold" xml:space="preserve">e</text>
<text x="271.6" y="982.2" font-family="Liberation Serif, Times New Roman, serif" font-size="14.65" fill="#111" stroke="#111" stroke-width="0.22" textLength="125.6" lengthAdjust="spacing" xml:space="preserve">90CEM1+10WA+3N</text>
</g>
</svg>
</body></html>
